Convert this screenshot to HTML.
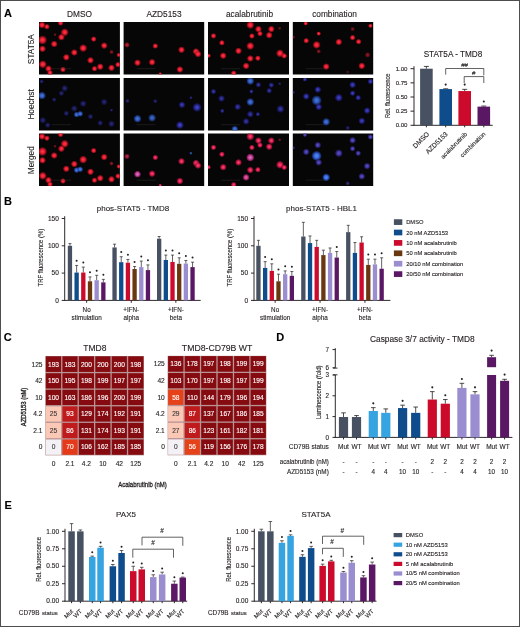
<!DOCTYPE html>
<html><head><meta charset="utf-8"><style>
html,body{margin:0;padding:0;background:#fff;}
svg{display:block;font-family:"Liberation Sans", sans-serif;}
</style></head><body>
<svg width="520" height="627" viewBox="0 0 520 627">
<rect x="0" y="0" width="520" height="627" fill="#fff"/>
<g style="filter:blur(0.35px)">
<defs>
<radialGradient id="gr"><stop offset="0" stop-color="#ff3c4c"/><stop offset="0.45" stop-color="#e61a30"/><stop offset="0.8" stop-color="#a0101a" stop-opacity="0.6"/><stop offset="1" stop-color="#600008" stop-opacity="0"/></radialGradient>
<radialGradient id="gb"><stop offset="0" stop-color="#4a58e0"/><stop offset="0.45" stop-color="#3030b0"/><stop offset="0.8" stop-color="#201a80" stop-opacity="0.6"/><stop offset="1" stop-color="#100840" stop-opacity="0"/></radialGradient>
<radialGradient id="gbb"><stop offset="0" stop-color="#5090f4"/><stop offset="0.45" stop-color="#3868e0"/><stop offset="0.8" stop-color="#2040a0" stop-opacity="0.6"/><stop offset="1" stop-color="#102050" stop-opacity="0"/></radialGradient>
<radialGradient id="gm"><stop offset="0" stop-color="#ff4a78"/><stop offset="0.45" stop-color="#dc1e4a"/><stop offset="0.8" stop-color="#a01040" stop-opacity="0.6"/><stop offset="1" stop-color="#500820" stop-opacity="0"/></radialGradient>
<radialGradient id="gp"><stop offset="0" stop-color="#e080d0"/><stop offset="0.45" stop-color="#c04aa0"/><stop offset="0.8" stop-color="#802070" stop-opacity="0.6"/><stop offset="1" stop-color="#401038" stop-opacity="0"/></radialGradient>
<radialGradient id="gv"><stop offset="0" stop-color="#7060e0"/><stop offset="0.45" stop-color="#4840c0"/><stop offset="0.8" stop-color="#302080" stop-opacity="0.6"/><stop offset="1" stop-color="#181040" stop-opacity="0"/></radialGradient>
<clipPath id="c0r0"><rect x="39" y="22" width="80.9" height="52.5"/></clipPath>
<clipPath id="c0r1"><rect x="39" y="78" width="80.9" height="52.5"/></clipPath>
<clipPath id="c0r2"><rect x="39" y="133.5" width="80.9" height="52.5"/></clipPath>
<clipPath id="c1r0"><rect x="123.6" y="22" width="80.6" height="52.5"/></clipPath>
<clipPath id="c1r1"><rect x="123.6" y="78" width="80.6" height="52.5"/></clipPath>
<clipPath id="c1r2"><rect x="123.6" y="133.5" width="80.6" height="52.5"/></clipPath>
<clipPath id="c2r0"><rect x="208" y="22" width="81" height="52.5"/></clipPath>
<clipPath id="c2r1"><rect x="208" y="78" width="81" height="52.5"/></clipPath>
<clipPath id="c2r2"><rect x="208" y="133.5" width="81" height="52.5"/></clipPath>
<clipPath id="c3r0"><rect x="292.8" y="22" width="80.4" height="52.5"/></clipPath>
<clipPath id="c3r1"><rect x="292.8" y="78" width="80.4" height="52.5"/></clipPath>
<clipPath id="c3r2"><rect x="292.8" y="133.5" width="80.4" height="52.5"/></clipPath>
</defs>
<rect x="39.00" y="22.00" width="80.90" height="52.50" fill="#060606"/>
<rect x="39.00" y="78.00" width="80.90" height="52.50" fill="#060606"/>
<rect x="39.00" y="133.50" width="80.90" height="52.50" fill="#060606"/>
<rect x="123.60" y="22.00" width="80.60" height="52.50" fill="#060606"/>
<rect x="123.60" y="78.00" width="80.60" height="52.50" fill="#060606"/>
<rect x="123.60" y="133.50" width="80.60" height="52.50" fill="#060606"/>
<rect x="208.00" y="22.00" width="81.00" height="52.50" fill="#060606"/>
<rect x="208.00" y="78.00" width="81.00" height="52.50" fill="#060606"/>
<rect x="208.00" y="133.50" width="81.00" height="52.50" fill="#060606"/>
<rect x="292.80" y="22.00" width="80.40" height="52.50" fill="#060606"/>
<rect x="292.80" y="78.00" width="80.40" height="52.50" fill="#060606"/>
<rect x="292.80" y="133.50" width="80.40" height="52.50" fill="#060606"/>
<g clip-path="url(#c0r0)">
<circle cx="42.0" cy="25.0" r="3.60" fill="url(#gr)" opacity="1.0"/>
<circle cx="46.9" cy="26.7" r="3.00" fill="url(#gr)" opacity="1.0"/>
<circle cx="60.6" cy="23.0" r="3.00" fill="url(#gr)" opacity="1.0"/>
<circle cx="64.7" cy="32.3" r="4.20" fill="url(#gr)" opacity="1.0"/>
<circle cx="61.4" cy="37.2" r="3.60" fill="url(#gr)" opacity="1.0"/>
<circle cx="55.0" cy="34.7" r="1.80" fill="url(#gr)" opacity="0.4"/>
<circle cx="42.5" cy="40.0" r="4.80" fill="url(#gr)" opacity="1.0"/>
<circle cx="54.2" cy="44.0" r="3.60" fill="url(#gr)" opacity="1.0"/>
<circle cx="42.5" cy="48.8" r="3.60" fill="url(#gr)" opacity="1.0"/>
<circle cx="93.7" cy="39.1" r="3.00" fill="url(#gr)" opacity="1.0"/>
<circle cx="104.2" cy="45.6" r="3.60" fill="url(#gr)" opacity="1.0"/>
<circle cx="83.2" cy="48.1" r="4.20" fill="url(#gr)" opacity="1.0"/>
<circle cx="74.3" cy="52.5" r="3.60" fill="url(#gr)" opacity="1.0"/>
<circle cx="111.5" cy="52.0" r="2.40" fill="url(#gr)" opacity="0.5"/>
<circle cx="66.3" cy="57.3" r="3.60" fill="url(#gr)" opacity="1.0"/>
<circle cx="90.5" cy="60.3" r="3.60" fill="url(#gr)" opacity="1.0"/>
<circle cx="42.8" cy="64.3" r="4.20" fill="url(#gr)" opacity="1.0"/>
<circle cx="48.5" cy="68.7" r="3.60" fill="url(#gr)" opacity="1.0"/>
<circle cx="50.0" cy="72.7" r="3.00" fill="url(#gr)" opacity="1.0"/>
<circle cx="63.0" cy="69.5" r="3.00" fill="url(#gr)" opacity="1.0"/>
<circle cx="94.5" cy="68.7" r="3.00" fill="url(#gr)" opacity="1.0"/>
<circle cx="100.2" cy="66.7" r="3.60" fill="url(#gr)" opacity="1.0"/>
<circle cx="111.5" cy="67.8" r="3.60" fill="url(#gr)" opacity="1.0"/>
<circle cx="118.0" cy="64.6" r="3.00" fill="url(#gr)" opacity="1.0"/>
<circle cx="118.8" cy="55.0" r="2.40" fill="url(#gr)" opacity="1.0"/>
<line x1="52" y1="68.7" x2="71" y2="68.7" stroke="#3a3a3a" stroke-width="0.4"/>
</g>
<g clip-path="url(#c0r1)">
<circle cx="42.0" cy="95.6" r="4.20" fill="url(#gbb)" opacity="0.85"/>
<circle cx="41.6" cy="81.5" r="2.40" fill="url(#gb)" opacity="0.5"/>
<circle cx="64.7" cy="88.3" r="3.60" fill="url(#gb)" opacity="0.5"/>
<circle cx="61.4" cy="93.2" r="3.00" fill="url(#gb)" opacity="0.5"/>
<circle cx="54.2" cy="99.6" r="2.40" fill="url(#gb)" opacity="0.5"/>
<circle cx="83.2" cy="103.7" r="3.60" fill="url(#gb)" opacity="0.5"/>
<circle cx="74.3" cy="108.5" r="3.60" fill="url(#gb)" opacity="0.5"/>
<circle cx="104.2" cy="102.0" r="3.60" fill="url(#gb)" opacity="0.5"/>
<circle cx="66.3" cy="113.3" r="3.00" fill="url(#gb)" opacity="0.5"/>
<circle cx="76.6" cy="114.6" r="3.12" fill="url(#gbb)" opacity="0.85"/>
<circle cx="80.2" cy="113.8" r="3.12" fill="url(#gbb)" opacity="0.85"/>
<circle cx="90.5" cy="116.6" r="3.00" fill="url(#gb)" opacity="0.5"/>
<circle cx="42.8" cy="120.3" r="3.60" fill="url(#gb)" opacity="0.5"/>
<circle cx="47.7" cy="125.1" r="3.00" fill="url(#gb)" opacity="0.5"/>
<circle cx="100.2" cy="123.0" r="3.00" fill="url(#gb)" opacity="0.5"/>
<circle cx="111.5" cy="123.8" r="3.60" fill="url(#gb)" opacity="0.5"/>
<circle cx="111.5" cy="110.1" r="1.80" fill="url(#gb)" opacity="0.5"/>
<line x1="52" y1="124.7" x2="71" y2="124.7" stroke="#3a3a3a" stroke-width="0.4"/>
</g>
<g clip-path="url(#c0r2)">
<circle cx="76.6" cy="170.1" r="3.12" fill="url(#gbb)" opacity="0.9"/>
<circle cx="80.2" cy="169.3" r="3.12" fill="url(#gbb)" opacity="0.9"/>
<circle cx="42.0" cy="136.5" r="3.60" fill="url(#gr)" opacity="1.0"/>
<circle cx="46.9" cy="138.2" r="3.00" fill="url(#gr)" opacity="1.0"/>
<circle cx="60.6" cy="134.5" r="3.00" fill="url(#gr)" opacity="1.0"/>
<circle cx="64.7" cy="143.8" r="4.20" fill="url(#gr)" opacity="1.0"/>
<circle cx="61.4" cy="148.7" r="3.60" fill="url(#gr)" opacity="1.0"/>
<circle cx="55.0" cy="146.2" r="1.80" fill="url(#gr)" opacity="0.4"/>
<circle cx="42.5" cy="151.5" r="4.80" fill="url(#gr)" opacity="1.0"/>
<circle cx="54.2" cy="155.5" r="3.60" fill="url(#gr)" opacity="1.0"/>
<circle cx="42.5" cy="160.3" r="3.60" fill="url(#gr)" opacity="1.0"/>
<circle cx="93.7" cy="150.6" r="3.00" fill="url(#gr)" opacity="1.0"/>
<circle cx="104.2" cy="157.1" r="3.60" fill="url(#gr)" opacity="1.0"/>
<circle cx="83.2" cy="159.6" r="4.20" fill="url(#gr)" opacity="1.0"/>
<circle cx="74.3" cy="164.0" r="3.60" fill="url(#gr)" opacity="1.0"/>
<circle cx="111.5" cy="163.5" r="2.40" fill="url(#gr)" opacity="0.5"/>
<circle cx="66.3" cy="168.8" r="3.60" fill="url(#gr)" opacity="1.0"/>
<circle cx="90.5" cy="171.8" r="3.60" fill="url(#gr)" opacity="1.0"/>
<circle cx="42.8" cy="175.8" r="4.20" fill="url(#gr)" opacity="1.0"/>
<circle cx="48.5" cy="180.2" r="3.60" fill="url(#gr)" opacity="1.0"/>
<circle cx="50.0" cy="184.2" r="3.00" fill="url(#gr)" opacity="1.0"/>
<circle cx="63.0" cy="181.0" r="3.00" fill="url(#gr)" opacity="1.0"/>
<circle cx="94.5" cy="180.2" r="3.00" fill="url(#gr)" opacity="1.0"/>
<circle cx="100.2" cy="178.2" r="3.60" fill="url(#gr)" opacity="1.0"/>
<circle cx="111.5" cy="179.3" r="3.60" fill="url(#gr)" opacity="1.0"/>
<circle cx="118.0" cy="176.1" r="3.00" fill="url(#gr)" opacity="1.0"/>
<circle cx="118.8" cy="166.5" r="2.40" fill="url(#gr)" opacity="1.0"/>
<line x1="52" y1="180.2" x2="71" y2="180.2" stroke="#3a3a3a" stroke-width="0.4"/>
</g>
<g clip-path="url(#c1r0)">
<circle cx="127.0" cy="44.9" r="3.00" fill="url(#gr)" opacity="0.7"/>
<circle cx="155.3" cy="46.0" r="3.00" fill="url(#gr)" opacity="1.0"/>
<circle cx="181.5" cy="49.8" r="3.60" fill="url(#gr)" opacity="1.0"/>
<circle cx="196.0" cy="51.5" r="3.60" fill="url(#gr)" opacity="1.0"/>
<circle cx="198.0" cy="54.0" r="3.60" fill="url(#gr)" opacity="1.0"/>
<circle cx="137.5" cy="62.7" r="3.60" fill="url(#gr)" opacity="1.0"/>
<circle cx="152.1" cy="62.2" r="3.60" fill="url(#gr)" opacity="1.0"/>
<circle cx="179.9" cy="69.5" r="3.60" fill="url(#gr)" opacity="1.0"/>
<circle cx="160.2" cy="73.8" r="1.80" fill="url(#gr)" opacity="1.0"/>
<line x1="136.6" y1="68.7" x2="155.6" y2="68.7" stroke="#3a3a3a" stroke-width="0.4"/>
</g>
<g clip-path="url(#c1r1)">
<circle cx="127.5" cy="100.9" r="2.40" fill="url(#gb)" opacity="0.5"/>
<circle cx="155.3" cy="101.2" r="2.40" fill="url(#gb)" opacity="0.5"/>
<circle cx="182.0" cy="104.8" r="3.60" fill="url(#gb)" opacity="0.8"/>
<circle cx="190.9" cy="97.7" r="1.80" fill="url(#gb)" opacity="0.6"/>
<circle cx="197.0" cy="107.4" r="4.80" fill="url(#gb)" opacity="0.9"/>
<circle cx="137.5" cy="118.7" r="4.20" fill="url(#gbb)" opacity="0.85"/>
<circle cx="152.1" cy="117.9" r="4.20" fill="url(#gbb)" opacity="0.765"/>
<circle cx="179.9" cy="125.1" r="4.20" fill="url(#gb)" opacity="0.9"/>
<line x1="136.6" y1="124.7" x2="155.6" y2="124.7" stroke="#3a3a3a" stroke-width="0.4"/>
</g>
<g clip-path="url(#c1r2)">
<circle cx="127.0" cy="156.4" r="3.00" fill="url(#gm)" opacity="0.7"/>
<circle cx="155.3" cy="157.5" r="3.00" fill="url(#gm)" opacity="1.0"/>
<circle cx="181.5" cy="161.3" r="3.60" fill="url(#gm)" opacity="1.0"/>
<circle cx="196.0" cy="163.0" r="3.60" fill="url(#gm)" opacity="1.0"/>
<circle cx="198.0" cy="165.5" r="3.60" fill="url(#gm)" opacity="1.0"/>
<circle cx="137.5" cy="174.2" r="3.60" fill="url(#gm)" opacity="1.0"/>
<circle cx="152.1" cy="173.7" r="3.60" fill="url(#gm)" opacity="1.0"/>
<circle cx="179.9" cy="181.0" r="3.60" fill="url(#gm)" opacity="1.0"/>
<circle cx="160.2" cy="185.3" r="1.80" fill="url(#gm)" opacity="1.0"/>
<circle cx="137.5" cy="174.2" r="3.60" fill="url(#gp)" opacity="1.0"/>
<circle cx="190.9" cy="153.2" r="1.80" fill="url(#gbb)" opacity="0.6"/>
<line x1="136.6" y1="180.2" x2="155.6" y2="180.2" stroke="#3a3a3a" stroke-width="0.4"/>
</g>
<g clip-path="url(#c2r0)">
<circle cx="250.3" cy="25.0" r="4.20" fill="url(#gr)" opacity="1.0"/>
<circle cx="258.4" cy="29.1" r="3.60" fill="url(#gr)" opacity="1.0"/>
<circle cx="271.3" cy="29.1" r="3.60" fill="url(#gr)" opacity="1.0"/>
<circle cx="260.0" cy="33.6" r="3.00" fill="url(#gr)" opacity="1.0"/>
<circle cx="269.2" cy="35.2" r="3.60" fill="url(#gr)" opacity="1.0"/>
<circle cx="251.9" cy="36.0" r="3.00" fill="url(#gr)" opacity="1.0"/>
<circle cx="279.7" cy="28.3" r="1.80" fill="url(#gr)" opacity="0.4"/>
<circle cx="213.5" cy="35.9" r="3.00" fill="url(#gr)" opacity="1.0"/>
<circle cx="221.9" cy="42.8" r="3.00" fill="url(#gr)" opacity="1.0"/>
<circle cx="250.3" cy="46.0" r="4.20" fill="url(#gr)" opacity="1.0"/>
<circle cx="238.5" cy="50.9" r="3.60" fill="url(#gr)" opacity="1.0"/>
<circle cx="208.6" cy="55.7" r="2.40" fill="url(#gr)" opacity="1.0"/>
<circle cx="223.2" cy="55.7" r="3.60" fill="url(#gr)" opacity="1.0"/>
<circle cx="250.3" cy="58.5" r="3.60" fill="url(#gr)" opacity="1.0"/>
<circle cx="257.9" cy="58.2" r="3.00" fill="url(#gr)" opacity="1.0"/>
<circle cx="280.0" cy="53.3" r="4.20" fill="url(#gr)" opacity="1.0"/>
<circle cx="284.2" cy="55.9" r="3.00" fill="url(#gr)" opacity="1.0"/>
<circle cx="246.1" cy="65.9" r="3.60" fill="url(#gr)" opacity="1.0"/>
<circle cx="233.7" cy="73.2" r="3.00" fill="url(#gr)" opacity="1.0"/>
<line x1="221" y1="68.7" x2="240" y2="68.7" stroke="#3a3a3a" stroke-width="0.4"/>
</g>
<g clip-path="url(#c2r1)">
<circle cx="250.3" cy="81.0" r="4.20" fill="url(#gbb)" opacity="0.85"/>
<circle cx="258.4" cy="84.8" r="3.00" fill="url(#gb)" opacity="0.72"/>
<circle cx="271.3" cy="85.1" r="3.00" fill="url(#gb)" opacity="0.72"/>
<circle cx="269.2" cy="90.7" r="3.00" fill="url(#gb)" opacity="0.72"/>
<circle cx="251.4" cy="91.5" r="2.40" fill="url(#gb)" opacity="0.72"/>
<circle cx="213.5" cy="91.5" r="3.00" fill="url(#gb)" opacity="0.72"/>
<circle cx="221.5" cy="98.5" r="3.60" fill="url(#gb)" opacity="0.72"/>
<circle cx="250.3" cy="102.0" r="4.20" fill="url(#gbb)" opacity="0.85"/>
<circle cx="237.7" cy="106.9" r="3.60" fill="url(#gb)" opacity="0.72"/>
<circle cx="222.3" cy="110.9" r="2.40" fill="url(#gb)" opacity="0.72"/>
<circle cx="250.3" cy="114.2" r="3.60" fill="url(#gb)" opacity="0.72"/>
<circle cx="257.9" cy="114.2" r="2.40" fill="url(#gb)" opacity="0.72"/>
<circle cx="280.5" cy="109.0" r="4.20" fill="url(#gb)" opacity="0.72"/>
<circle cx="246.1" cy="121.4" r="3.60" fill="url(#gb)" opacity="0.72"/>
<circle cx="234.8" cy="129.0" r="3.60" fill="url(#gbb)" opacity="0.85"/>
<circle cx="279.7" cy="83.8" r="1.80" fill="url(#gb)" opacity="0.5"/>
<line x1="221" y1="124.7" x2="240" y2="124.7" stroke="#3a3a3a" stroke-width="0.4"/>
</g>
<g clip-path="url(#c2r2)">
<circle cx="250.3" cy="136.5" r="4.20" fill="url(#gm)" opacity="1.0"/>
<circle cx="258.4" cy="140.6" r="3.60" fill="url(#gm)" opacity="1.0"/>
<circle cx="271.3" cy="140.6" r="3.60" fill="url(#gm)" opacity="1.0"/>
<circle cx="260.0" cy="145.1" r="3.00" fill="url(#gm)" opacity="1.0"/>
<circle cx="269.2" cy="146.7" r="3.60" fill="url(#gm)" opacity="1.0"/>
<circle cx="251.9" cy="147.5" r="3.00" fill="url(#gm)" opacity="1.0"/>
<circle cx="279.7" cy="139.8" r="1.80" fill="url(#gm)" opacity="0.4"/>
<circle cx="213.5" cy="147.4" r="3.00" fill="url(#gm)" opacity="1.0"/>
<circle cx="221.9" cy="154.3" r="3.00" fill="url(#gm)" opacity="1.0"/>
<circle cx="250.3" cy="157.5" r="4.20" fill="url(#gm)" opacity="1.0"/>
<circle cx="238.5" cy="162.4" r="3.60" fill="url(#gm)" opacity="1.0"/>
<circle cx="208.6" cy="167.2" r="2.40" fill="url(#gm)" opacity="1.0"/>
<circle cx="223.2" cy="167.2" r="3.60" fill="url(#gm)" opacity="1.0"/>
<circle cx="250.3" cy="170.0" r="3.60" fill="url(#gm)" opacity="1.0"/>
<circle cx="257.9" cy="169.7" r="3.00" fill="url(#gm)" opacity="1.0"/>
<circle cx="280.0" cy="164.8" r="4.20" fill="url(#gm)" opacity="1.0"/>
<circle cx="284.2" cy="167.4" r="3.00" fill="url(#gm)" opacity="1.0"/>
<circle cx="246.1" cy="177.4" r="3.60" fill="url(#gm)" opacity="1.0"/>
<circle cx="233.7" cy="184.7" r="3.00" fill="url(#gm)" opacity="1.0"/>
<circle cx="250.3" cy="157.5" r="4.20" fill="url(#gp)" opacity="0.9"/>
<circle cx="246.1" cy="177.4" r="3.60" fill="url(#gp)" opacity="0.7"/>
<line x1="221" y1="180.2" x2="240" y2="180.2" stroke="#3a3a3a" stroke-width="0.4"/>
</g>
<g clip-path="url(#c3r0)">
<circle cx="305.7" cy="23.4" r="2.40" fill="url(#gr)" opacity="1.0"/>
<circle cx="318.7" cy="33.6" r="2.40" fill="url(#gr)" opacity="1.0"/>
<circle cx="306.2" cy="40.7" r="3.00" fill="url(#gr)" opacity="1.0"/>
<circle cx="316.6" cy="44.9" r="4.20" fill="url(#gr)" opacity="1.0"/>
<circle cx="318.7" cy="51.4" r="2.40" fill="url(#gr)" opacity="0.5"/>
<circle cx="338.8" cy="42.0" r="3.60" fill="url(#gr)" opacity="1.0"/>
<circle cx="352.6" cy="29.1" r="2.40" fill="url(#gr)" opacity="0.45"/>
<circle cx="352.6" cy="37.6" r="3.00" fill="url(#gr)" opacity="1.0"/>
<circle cx="358.6" cy="41.7" r="3.00" fill="url(#gr)" opacity="1.0"/>
<circle cx="370.4" cy="25.8" r="2.40" fill="url(#gr)" opacity="1.0"/>
<circle cx="367.6" cy="54.9" r="3.00" fill="url(#gr)" opacity="0.5"/>
<circle cx="326.2" cy="66.6" r="3.60" fill="url(#gr)" opacity="1.0"/>
<circle cx="361.8" cy="65.9" r="3.60" fill="url(#gr)" opacity="1.0"/>
<circle cx="293.6" cy="37.2" r="1.80" fill="url(#gr)" opacity="0.4"/>
<circle cx="347.7" cy="71.9" r="1.80" fill="url(#gr)" opacity="0.3"/>
<line x1="305.8" y1="68.7" x2="324.8" y2="68.7" stroke="#3a3a3a" stroke-width="0.4"/>
</g>
<g clip-path="url(#c3r1)">
<circle cx="304.9" cy="79.4" r="2.40" fill="url(#gb)" opacity="0.85"/>
<circle cx="317.8" cy="89.6" r="3.60" fill="url(#gb)" opacity="0.85"/>
<circle cx="306.2" cy="96.4" r="3.60" fill="url(#gb)" opacity="0.85"/>
<circle cx="316.6" cy="100.4" r="5.40" fill="url(#gbb)" opacity="0.85"/>
<circle cx="318.7" cy="106.9" r="3.60" fill="url(#gb)" opacity="0.85"/>
<circle cx="338.8" cy="97.7" r="4.20" fill="url(#gb)" opacity="0.85"/>
<circle cx="352.6" cy="84.8" r="3.60" fill="url(#gb)" opacity="0.85"/>
<circle cx="352.6" cy="93.2" r="3.00" fill="url(#gb)" opacity="0.85"/>
<circle cx="358.2" cy="97.7" r="3.00" fill="url(#gb)" opacity="0.85"/>
<circle cx="370.4" cy="81.5" r="3.00" fill="url(#gb)" opacity="0.85"/>
<circle cx="367.1" cy="110.6" r="3.60" fill="url(#gb)" opacity="0.85"/>
<circle cx="326.2" cy="121.9" r="4.20" fill="url(#gbb)" opacity="0.85"/>
<circle cx="361.8" cy="120.9" r="3.60" fill="url(#gb)" opacity="0.85"/>
<circle cx="293.6" cy="92.3" r="1.80" fill="url(#gb)" opacity="0.5"/>
<circle cx="347.7" cy="127.9" r="2.40" fill="url(#gb)" opacity="0.5"/>
<line x1="305.8" y1="124.7" x2="324.8" y2="124.7" stroke="#3a3a3a" stroke-width="0.4"/>
</g>
<g clip-path="url(#c3r2)">
<circle cx="304.9" cy="134.9" r="2.40" fill="url(#gv)" opacity="0.85"/>
<circle cx="317.8" cy="145.1" r="3.60" fill="url(#gv)" opacity="0.85"/>
<circle cx="306.2" cy="151.9" r="3.60" fill="url(#gv)" opacity="0.85"/>
<circle cx="316.6" cy="155.9" r="5.40" fill="url(#gbb)" opacity="1.0"/>
<circle cx="318.7" cy="162.4" r="3.60" fill="url(#gv)" opacity="0.85"/>
<circle cx="338.8" cy="153.2" r="4.20" fill="url(#gv)" opacity="0.85"/>
<circle cx="352.6" cy="140.3" r="3.60" fill="url(#gv)" opacity="0.85"/>
<circle cx="352.6" cy="148.7" r="3.00" fill="url(#gv)" opacity="0.85"/>
<circle cx="358.2" cy="153.2" r="3.00" fill="url(#gv)" opacity="0.85"/>
<circle cx="370.4" cy="137.0" r="3.00" fill="url(#gv)" opacity="0.85"/>
<circle cx="367.1" cy="166.1" r="3.60" fill="url(#gv)" opacity="0.85"/>
<circle cx="326.2" cy="177.4" r="4.20" fill="url(#gbb)" opacity="1.0"/>
<circle cx="361.8" cy="176.4" r="3.60" fill="url(#gv)" opacity="0.85"/>
<circle cx="293.6" cy="147.8" r="1.80" fill="url(#gv)" opacity="0.5"/>
<circle cx="347.7" cy="183.4" r="2.40" fill="url(#gv)" opacity="0.5"/>
<line x1="305.8" y1="180.2" x2="324.8" y2="180.2" stroke="#3a3a3a" stroke-width="0.4"/>
</g>
<text x="79.50" y="17.20" font-size="8.3" text-anchor="middle" fill="#231f20" stroke="#231f20" stroke-width="0.12">DMSO</text>
<text x="164.00" y="17.20" font-size="8.3" text-anchor="middle" fill="#231f20" stroke="#231f20" stroke-width="0.12">AZD5153</text>
<text x="249.50" y="17.20" font-size="8.3" text-anchor="middle" fill="#231f20" stroke="#231f20" stroke-width="0.12">acalabrutinib</text>
<text x="334.50" y="17.20" font-size="8.3" text-anchor="middle" fill="#231f20" stroke="#231f20" stroke-width="0.12">combination</text>
<text x="34.00" y="49.20" font-size="8.3" text-anchor="middle" fill="#231f20" stroke="#231f20" stroke-width="0.12" transform="rotate(-90 34 49.2)">STAT5A</text>
<text x="34.00" y="104.40" font-size="8.3" text-anchor="middle" fill="#231f20" stroke="#231f20" stroke-width="0.12" transform="rotate(-90 34 104.4)">Hoechst</text>
<text x="34.00" y="160.20" font-size="8.3" text-anchor="middle" fill="#231f20" stroke="#231f20" stroke-width="0.12" transform="rotate(-90 34 160.2)">Merged</text>
<text x="453.00" y="56.80" font-size="8.2" text-anchor="middle" fill="#231f20" stroke="#231f20" stroke-width="0.12">STAT5A - TMD8</text>
<line x1="414" y1="66.2" x2="414" y2="125.7" stroke="#231f20" stroke-width="0.95"/>
<line x1="410.5" y1="68.69999999999999" x2="414" y2="68.69999999999999" stroke="#231f20" stroke-width="0.95"/>
<text x="407.50" y="70.80" font-size="6.1" text-anchor="end" fill="#231f20" stroke="#231f20" stroke-width="0.12">1.00</text>
<line x1="410.5" y1="82.85" x2="414" y2="82.85" stroke="#231f20" stroke-width="0.95"/>
<text x="407.50" y="84.95" font-size="6.1" text-anchor="end" fill="#231f20" stroke="#231f20" stroke-width="0.12">0.75</text>
<line x1="410.5" y1="97.0" x2="414" y2="97.0" stroke="#231f20" stroke-width="0.95"/>
<text x="407.50" y="99.10" font-size="6.1" text-anchor="end" fill="#231f20" stroke="#231f20" stroke-width="0.12">0.50</text>
<line x1="410.5" y1="111.14999999999999" x2="414" y2="111.14999999999999" stroke="#231f20" stroke-width="0.95"/>
<text x="407.50" y="113.25" font-size="6.1" text-anchor="end" fill="#231f20" stroke="#231f20" stroke-width="0.12">0.25</text>
<line x1="410.5" y1="125.3" x2="414" y2="125.3" stroke="#231f20" stroke-width="0.95"/>
<text x="407.50" y="127.40" font-size="6.1" text-anchor="end" fill="#231f20" stroke="#231f20" stroke-width="0.12">0.00</text>
<line x1="413.6" y1="125.3" x2="492.7" y2="125.3" stroke="#231f20" stroke-width="0.95"/>
<line x1="426.4" y1="68.69999999999999" x2="426.4" y2="66.43599999999999" stroke="#231f20" stroke-width="0.8"/>
<line x1="423.9" y1="66.43599999999999" x2="428.9" y2="66.43599999999999" stroke="#231f20" stroke-width="0.8"/>
<rect x="420.10" y="68.70" width="12.60" height="56.60" fill="#475162"/>
<line x1="426.4" y1="125.3" x2="426.4" y2="127.3" stroke="#231f20" stroke-width="0.95"/>
<line x1="445.7" y1="89.076" x2="445.7" y2="88.79299999999999" stroke="#231f20" stroke-width="0.8"/>
<line x1="443.2" y1="88.79299999999999" x2="448.2" y2="88.79299999999999" stroke="#231f20" stroke-width="0.8"/>
<rect x="439.40" y="89.08" width="12.60" height="36.22" fill="#0f4c8c"/>
<line x1="445.7" y1="125.3" x2="445.7" y2="127.3" stroke="#231f20" stroke-width="0.95"/>
<line x1="464.7" y1="91.05699999999999" x2="464.7" y2="89.359" stroke="#231f20" stroke-width="0.8"/>
<line x1="462.2" y1="89.359" x2="467.2" y2="89.359" stroke="#231f20" stroke-width="0.8"/>
<rect x="458.40" y="91.06" width="12.60" height="34.24" fill="#cc0a2c"/>
<line x1="464.7" y1="125.3" x2="464.7" y2="127.3" stroke="#231f20" stroke-width="0.95"/>
<line x1="483.8" y1="106.622" x2="483.8" y2="106.056" stroke="#231f20" stroke-width="0.8"/>
<line x1="481.3" y1="106.056" x2="486.3" y2="106.056" stroke="#231f20" stroke-width="0.8"/>
<rect x="477.50" y="106.62" width="12.60" height="18.68" fill="#5a1864"/>
<line x1="483.8" y1="125.3" x2="483.8" y2="127.3" stroke="#231f20" stroke-width="0.95"/>
<circle cx="445.7" cy="84.6" r="1.05" fill="#231f20"/>
<circle cx="464.7" cy="84.6" r="1.05" fill="#231f20"/>
<circle cx="483.8" cy="101.5" r="1.05" fill="#231f20"/>
<polyline points="445.7,74.6 445.7,68.5 483.8,68.5 483.8,75.4" fill="none" stroke="#231f20" stroke-width="0.7"/>
<text x="464.60" y="66.80" font-size="6.2" text-anchor="middle" fill="#231f20" stroke="#231f20" stroke-width="0.12">##</text>
<polyline points="464.2,83 464.2,76.6 483.8,76.6 483.8,83" fill="none" stroke="#231f20" stroke-width="0.7"/>
<text x="473.80" y="75.00" font-size="6.2" text-anchor="middle" fill="#231f20" stroke="#231f20" stroke-width="0.12">#</text>
<text x="390.50" y="95.70" font-size="7.2" text-anchor="middle" fill="#231f20" stroke="#231f20" stroke-width="0.12" transform="rotate(-90 390.5 95.7)" textLength="44.5" lengthAdjust="spacingAndGlyphs">Rel. fluorescence</text>
<text x="429.80" y="134.50" font-size="6.7" text-anchor="end" fill="#231f20" stroke="#231f20" stroke-width="0.12" transform="rotate(-45 429.8 134.5)">DMSO</text>
<text x="448.20" y="134.50" font-size="6.7" text-anchor="end" fill="#231f20" stroke="#231f20" stroke-width="0.12" transform="rotate(-45 448.2 134.5)">AZD5153</text>
<text x="467.60" y="134.70" font-size="6.1" text-anchor="end" fill="#231f20" stroke="#231f20" stroke-width="0.12" transform="rotate(-45 467.6 134.7)">acalabrutinib</text>
<text x="485.80" y="134.50" font-size="6.1" text-anchor="end" fill="#231f20" stroke="#231f20" stroke-width="0.12" transform="rotate(-45 485.8 134.5)">combination</text>
<text x="133.00" y="210.60" font-size="8" text-anchor="middle" fill="#231f20" stroke="#231f20" stroke-width="0.12">phos-STAT5 - TMD8</text>
<line x1="64.7" y1="216.2" x2="64.7" y2="300.79999999999995" stroke="#231f20" stroke-width="0.95"/>
<line x1="61.7" y1="218.49999999999997" x2="64.7" y2="218.49999999999997" stroke="#231f20" stroke-width="0.95"/>
<text x="58.80" y="220.80" font-size="6.5" text-anchor="end" fill="#231f20" stroke="#231f20" stroke-width="0.12">150</text>
<line x1="61.7" y1="245.79999999999998" x2="64.7" y2="245.79999999999998" stroke="#231f20" stroke-width="0.95"/>
<text x="58.80" y="248.10" font-size="6.5" text-anchor="end" fill="#231f20" stroke="#231f20" stroke-width="0.12">100</text>
<line x1="61.7" y1="273.09999999999997" x2="64.7" y2="273.09999999999997" stroke="#231f20" stroke-width="0.95"/>
<text x="58.80" y="275.40" font-size="6.5" text-anchor="end" fill="#231f20" stroke="#231f20" stroke-width="0.12">50</text>
<line x1="61.7" y1="300.4" x2="64.7" y2="300.4" stroke="#231f20" stroke-width="0.95"/>
<text x="58.80" y="302.70" font-size="6.5" text-anchor="end" fill="#231f20" stroke="#231f20" stroke-width="0.12">0</text>
<line x1="64.3" y1="300.4" x2="200.7" y2="300.4" stroke="#231f20" stroke-width="0.95"/>
<line x1="69.95" y1="245.79999999999998" x2="69.95" y2="243.61599999999999" stroke="#231f20" stroke-width="0.7"/>
<line x1="68.45" y1="243.61599999999999" x2="71.45" y2="243.61599999999999" stroke="#231f20" stroke-width="0.7"/>
<rect x="67.80" y="245.80" width="4.30" height="54.60" fill="#475162"/>
<line x1="76.63" y1="272.554" x2="76.63" y2="265.45599999999996" stroke="#231f20" stroke-width="0.7"/>
<line x1="75.13" y1="265.45599999999996" x2="78.13" y2="265.45599999999996" stroke="#231f20" stroke-width="0.7"/>
<rect x="74.48" y="272.55" width="4.30" height="27.85" fill="#0f4c8c"/>
<circle cx="76.63" cy="260.86" r="1.0" fill="#231f20"/>
<line x1="83.31" y1="272.554" x2="83.31" y2="267.094" stroke="#231f20" stroke-width="0.7"/>
<line x1="81.81" y1="267.094" x2="84.81" y2="267.094" stroke="#231f20" stroke-width="0.7"/>
<rect x="81.16" y="272.55" width="4.30" height="27.85" fill="#cc0a2c"/>
<circle cx="83.31" cy="262.49" r="1.0" fill="#231f20"/>
<line x1="89.99000000000001" y1="281.28999999999996" x2="89.99000000000001" y2="276.92199999999997" stroke="#231f20" stroke-width="0.7"/>
<line x1="88.49000000000001" y1="276.92199999999997" x2="91.49000000000001" y2="276.92199999999997" stroke="#231f20" stroke-width="0.7"/>
<rect x="87.84" y="281.29" width="4.30" height="19.11" fill="#6a3810"/>
<circle cx="89.99" cy="272.32" r="1.0" fill="#231f20"/>
<line x1="96.67" y1="280.198" x2="96.67" y2="275.284" stroke="#231f20" stroke-width="0.7"/>
<line x1="95.17" y1="275.284" x2="98.17" y2="275.284" stroke="#231f20" stroke-width="0.7"/>
<rect x="94.52" y="280.20" width="4.30" height="20.20" fill="#9a8ed0"/>
<circle cx="96.67" cy="270.68" r="1.0" fill="#231f20"/>
<line x1="103.35" y1="282.38199999999995" x2="103.35" y2="279.37899999999996" stroke="#231f20" stroke-width="0.7"/>
<line x1="101.85" y1="279.37899999999996" x2="104.85" y2="279.37899999999996" stroke="#231f20" stroke-width="0.7"/>
<rect x="101.20" y="282.38" width="4.30" height="18.02" fill="#5a1864"/>
<circle cx="103.35" cy="274.78" r="1.0" fill="#231f20"/>
<line x1="86.64999999999999" y1="300.4" x2="86.64999999999999" y2="302.79999999999995" stroke="#231f20" stroke-width="0.95"/>
<text x="86.65" y="312.20" font-size="6.3" text-anchor="middle" fill="#231f20" stroke="#231f20" stroke-width="0.12">No</text>
<text x="86.65" y="320.20" font-size="6.3" text-anchor="middle" fill="#231f20" stroke="#231f20" stroke-width="0.12">stimulation</text>
<line x1="114.55000000000001" y1="247.438" x2="114.55000000000001" y2="244.16199999999998" stroke="#231f20" stroke-width="0.7"/>
<line x1="113.05000000000001" y1="244.16199999999998" x2="116.05000000000001" y2="244.16199999999998" stroke="#231f20" stroke-width="0.7"/>
<rect x="112.40" y="247.44" width="4.30" height="52.96" fill="#475162"/>
<line x1="121.23000000000002" y1="262.17999999999995" x2="121.23000000000002" y2="256.71999999999997" stroke="#231f20" stroke-width="0.7"/>
<line x1="119.73000000000002" y1="256.71999999999997" x2="122.73000000000002" y2="256.71999999999997" stroke="#231f20" stroke-width="0.7"/>
<rect x="119.08" y="262.18" width="4.30" height="38.22" fill="#0f4c8c"/>
<circle cx="121.23" cy="252.12" r="1.0" fill="#231f20"/>
<line x1="127.91000000000001" y1="262.726" x2="127.91000000000001" y2="259.45" stroke="#231f20" stroke-width="0.7"/>
<line x1="126.41000000000001" y1="259.45" x2="129.41000000000003" y2="259.45" stroke="#231f20" stroke-width="0.7"/>
<rect x="125.76" y="262.73" width="4.30" height="37.67" fill="#cc0a2c"/>
<circle cx="127.91" cy="254.85" r="1.0" fill="#231f20"/>
<line x1="134.59" y1="269.005" x2="134.59" y2="266.548" stroke="#231f20" stroke-width="0.7"/>
<line x1="133.09" y1="266.548" x2="136.09" y2="266.548" stroke="#231f20" stroke-width="0.7"/>
<rect x="132.44" y="269.00" width="4.30" height="31.39" fill="#6a3810"/>
<circle cx="134.59" cy="261.95" r="1.0" fill="#231f20"/>
<line x1="141.27" y1="267.094" x2="141.27" y2="261.08799999999997" stroke="#231f20" stroke-width="0.7"/>
<line x1="139.77" y1="261.08799999999997" x2="142.77" y2="261.08799999999997" stroke="#231f20" stroke-width="0.7"/>
<rect x="139.12" y="267.09" width="4.30" height="33.31" fill="#9a8ed0"/>
<circle cx="141.27" cy="256.49" r="1.0" fill="#231f20"/>
<line x1="147.95000000000002" y1="270.097" x2="147.95000000000002" y2="264.90999999999997" stroke="#231f20" stroke-width="0.7"/>
<line x1="146.45000000000002" y1="264.90999999999997" x2="149.45000000000002" y2="264.90999999999997" stroke="#231f20" stroke-width="0.7"/>
<rect x="145.80" y="270.10" width="4.30" height="30.30" fill="#5a1864"/>
<circle cx="147.95" cy="260.31" r="1.0" fill="#231f20"/>
<line x1="131.25" y1="300.4" x2="131.25" y2="302.79999999999995" stroke="#231f20" stroke-width="0.95"/>
<text x="131.25" y="312.20" font-size="6.3" text-anchor="middle" fill="#231f20" stroke="#231f20" stroke-width="0.12">+IFN-</text>
<text x="131.25" y="320.20" font-size="6.3" text-anchor="middle" fill="#231f20" stroke="#231f20" stroke-width="0.12">alpha</text>
<line x1="159.15" y1="238.70199999999997" x2="159.15" y2="236.51799999999997" stroke="#231f20" stroke-width="0.7"/>
<line x1="157.65" y1="236.51799999999997" x2="160.65" y2="236.51799999999997" stroke="#231f20" stroke-width="0.7"/>
<rect x="157.00" y="238.70" width="4.30" height="61.70" fill="#475162"/>
<line x1="165.83" y1="259.996" x2="165.83" y2="255.08199999999997" stroke="#231f20" stroke-width="0.7"/>
<line x1="164.33" y1="255.08199999999997" x2="167.33" y2="255.08199999999997" stroke="#231f20" stroke-width="0.7"/>
<rect x="163.68" y="260.00" width="4.30" height="40.40" fill="#0f4c8c"/>
<circle cx="165.83" cy="250.48" r="1.0" fill="#231f20"/>
<line x1="172.51000000000002" y1="261.907" x2="172.51000000000002" y2="255.08199999999997" stroke="#231f20" stroke-width="0.7"/>
<line x1="171.01000000000002" y1="255.08199999999997" x2="174.01000000000002" y2="255.08199999999997" stroke="#231f20" stroke-width="0.7"/>
<rect x="170.36" y="261.91" width="4.30" height="38.49" fill="#cc0a2c"/>
<circle cx="172.51" cy="250.48" r="1.0" fill="#231f20"/>
<line x1="179.19" y1="263.818" x2="179.19" y2="257.81199999999995" stroke="#231f20" stroke-width="0.7"/>
<line x1="177.69" y1="257.81199999999995" x2="180.69" y2="257.81199999999995" stroke="#231f20" stroke-width="0.7"/>
<rect x="177.04" y="263.82" width="4.30" height="36.58" fill="#6a3810"/>
<circle cx="179.19" cy="253.21" r="1.0" fill="#231f20"/>
<line x1="185.87" y1="263.54499999999996" x2="185.87" y2="260.542" stroke="#231f20" stroke-width="0.7"/>
<line x1="184.37" y1="260.542" x2="187.37" y2="260.542" stroke="#231f20" stroke-width="0.7"/>
<rect x="183.72" y="263.54" width="4.30" height="36.86" fill="#9a8ed0"/>
<circle cx="185.87" cy="255.94" r="1.0" fill="#231f20"/>
<line x1="192.55" y1="267.094" x2="192.55" y2="262.17999999999995" stroke="#231f20" stroke-width="0.7"/>
<line x1="191.05" y1="262.17999999999995" x2="194.05" y2="262.17999999999995" stroke="#231f20" stroke-width="0.7"/>
<rect x="190.40" y="267.09" width="4.30" height="33.31" fill="#5a1864"/>
<circle cx="192.55" cy="257.58" r="1.0" fill="#231f20"/>
<line x1="175.85" y1="300.4" x2="175.85" y2="302.79999999999995" stroke="#231f20" stroke-width="0.95"/>
<text x="175.85" y="312.20" font-size="6.3" text-anchor="middle" fill="#231f20" stroke="#231f20" stroke-width="0.12">+IFN-</text>
<text x="175.85" y="320.20" font-size="6.3" text-anchor="middle" fill="#231f20" stroke="#231f20" stroke-width="0.12">beta</text>
<text x="42.60" y="257.60" font-size="7.4" text-anchor="middle" fill="#231f20" stroke="#231f20" stroke-width="0.12" transform="rotate(-90 42.6 257.6)" textLength="57.7" lengthAdjust="spacingAndGlyphs">TRF fluorescence (%)</text>
<text x="321.50" y="210.60" font-size="8" text-anchor="middle" fill="#231f20" stroke="#231f20" stroke-width="0.12">phos-STAT5 - HBL1</text>
<line x1="254" y1="216.2" x2="254" y2="300.79999999999995" stroke="#231f20" stroke-width="0.95"/>
<line x1="251" y1="218.49999999999997" x2="254" y2="218.49999999999997" stroke="#231f20" stroke-width="0.95"/>
<text x="248.10" y="220.80" font-size="6.5" text-anchor="end" fill="#231f20" stroke="#231f20" stroke-width="0.12">150</text>
<line x1="251" y1="245.79999999999998" x2="254" y2="245.79999999999998" stroke="#231f20" stroke-width="0.95"/>
<text x="248.10" y="248.10" font-size="6.5" text-anchor="end" fill="#231f20" stroke="#231f20" stroke-width="0.12">100</text>
<line x1="251" y1="273.09999999999997" x2="254" y2="273.09999999999997" stroke="#231f20" stroke-width="0.95"/>
<text x="248.10" y="275.40" font-size="6.5" text-anchor="end" fill="#231f20" stroke="#231f20" stroke-width="0.12">50</text>
<line x1="251" y1="300.4" x2="254" y2="300.4" stroke="#231f20" stroke-width="0.95"/>
<text x="248.10" y="302.70" font-size="6.5" text-anchor="end" fill="#231f20" stroke="#231f20" stroke-width="0.12">0</text>
<line x1="253.6" y1="300.4" x2="390.4" y2="300.4" stroke="#231f20" stroke-width="0.95"/>
<line x1="258.45" y1="245.79999999999998" x2="258.45" y2="240.33999999999997" stroke="#231f20" stroke-width="0.7"/>
<line x1="256.95" y1="240.33999999999997" x2="259.95" y2="240.33999999999997" stroke="#231f20" stroke-width="0.7"/>
<rect x="256.30" y="245.80" width="4.30" height="54.60" fill="#475162"/>
<line x1="265.13" y1="267.91299999999995" x2="265.13" y2="261.63399999999996" stroke="#231f20" stroke-width="0.7"/>
<line x1="263.63" y1="261.63399999999996" x2="266.63" y2="261.63399999999996" stroke="#231f20" stroke-width="0.7"/>
<rect x="262.98" y="267.91" width="4.30" height="32.49" fill="#0f4c8c"/>
<circle cx="265.13" cy="257.03" r="1.0" fill="#231f20"/>
<line x1="271.81" y1="270.916" x2="271.81" y2="263.818" stroke="#231f20" stroke-width="0.7"/>
<line x1="270.31" y1="263.818" x2="273.31" y2="263.818" stroke="#231f20" stroke-width="0.7"/>
<rect x="269.66" y="270.92" width="4.30" height="29.48" fill="#cc0a2c"/>
<circle cx="271.81" cy="259.22" r="1.0" fill="#231f20"/>
<line x1="278.49" y1="281.28999999999996" x2="278.49" y2="274.19199999999995" stroke="#231f20" stroke-width="0.7"/>
<line x1="276.99" y1="274.19199999999995" x2="279.99" y2="274.19199999999995" stroke="#231f20" stroke-width="0.7"/>
<rect x="276.34" y="281.29" width="4.30" height="19.11" fill="#6a3810"/>
<circle cx="278.49" cy="269.59" r="1.0" fill="#231f20"/>
<line x1="285.16999999999996" y1="274.19199999999995" x2="285.16999999999996" y2="270.916" stroke="#231f20" stroke-width="0.7"/>
<line x1="283.66999999999996" y1="270.916" x2="286.66999999999996" y2="270.916" stroke="#231f20" stroke-width="0.7"/>
<rect x="283.02" y="274.19" width="4.30" height="26.21" fill="#9a8ed0"/>
<circle cx="285.17" cy="266.32" r="1.0" fill="#231f20"/>
<line x1="291.84999999999997" y1="275.83" x2="291.84999999999997" y2="271.462" stroke="#231f20" stroke-width="0.7"/>
<line x1="290.34999999999997" y1="271.462" x2="293.34999999999997" y2="271.462" stroke="#231f20" stroke-width="0.7"/>
<rect x="289.70" y="275.83" width="4.30" height="24.57" fill="#5a1864"/>
<circle cx="291.85" cy="266.86" r="1.0" fill="#231f20"/>
<line x1="275.15000000000003" y1="300.4" x2="275.15000000000003" y2="302.79999999999995" stroke="#231f20" stroke-width="0.95"/>
<text x="275.15" y="312.20" font-size="6.3" text-anchor="middle" fill="#231f20" stroke="#231f20" stroke-width="0.12">No</text>
<text x="275.15" y="320.20" font-size="6.3" text-anchor="middle" fill="#231f20" stroke="#231f20" stroke-width="0.12">stimulation</text>
<line x1="303.34999999999997" y1="236.51799999999997" x2="303.34999999999997" y2="222.32199999999997" stroke="#231f20" stroke-width="0.7"/>
<line x1="301.84999999999997" y1="222.32199999999997" x2="304.84999999999997" y2="222.32199999999997" stroke="#231f20" stroke-width="0.7"/>
<rect x="301.20" y="236.52" width="4.30" height="63.88" fill="#475162"/>
<line x1="310.03" y1="243.06999999999996" x2="310.03" y2="235.97199999999998" stroke="#231f20" stroke-width="0.7"/>
<line x1="308.53" y1="235.97199999999998" x2="311.53" y2="235.97199999999998" stroke="#231f20" stroke-width="0.7"/>
<rect x="307.88" y="243.07" width="4.30" height="57.33" fill="#0f4c8c"/>
<line x1="316.71" y1="246.89199999999997" x2="316.71" y2="240.33999999999997" stroke="#231f20" stroke-width="0.7"/>
<line x1="315.21" y1="240.33999999999997" x2="318.21" y2="240.33999999999997" stroke="#231f20" stroke-width="0.7"/>
<rect x="314.56" y="246.89" width="4.30" height="53.51" fill="#cc0a2c"/>
<line x1="323.39" y1="255.08199999999997" x2="323.39" y2="250.16799999999998" stroke="#231f20" stroke-width="0.7"/>
<line x1="321.89" y1="250.16799999999998" x2="324.89" y2="250.16799999999998" stroke="#231f20" stroke-width="0.7"/>
<rect x="321.24" y="255.08" width="4.30" height="45.32" fill="#6a3810"/>
<line x1="330.06999999999994" y1="252.89799999999997" x2="330.06999999999994" y2="247.98399999999998" stroke="#231f20" stroke-width="0.7"/>
<line x1="328.56999999999994" y1="247.98399999999998" x2="331.56999999999994" y2="247.98399999999998" stroke="#231f20" stroke-width="0.7"/>
<rect x="327.92" y="252.90" width="4.30" height="47.50" fill="#9a8ed0"/>
<line x1="336.74999999999994" y1="257.539" x2="336.74999999999994" y2="251.53299999999996" stroke="#231f20" stroke-width="0.7"/>
<line x1="335.24999999999994" y1="251.53299999999996" x2="338.24999999999994" y2="251.53299999999996" stroke="#231f20" stroke-width="0.7"/>
<rect x="334.60" y="257.54" width="4.30" height="42.86" fill="#5a1864"/>
<circle cx="336.75" cy="246.93" r="1.0" fill="#231f20"/>
<line x1="320.05" y1="300.4" x2="320.05" y2="302.79999999999995" stroke="#231f20" stroke-width="0.95"/>
<text x="320.05" y="312.20" font-size="6.3" text-anchor="middle" fill="#231f20" stroke="#231f20" stroke-width="0.12">+IFN-</text>
<text x="320.05" y="320.20" font-size="6.3" text-anchor="middle" fill="#231f20" stroke="#231f20" stroke-width="0.12">alpha</text>
<line x1="348.25" y1="232.14999999999998" x2="348.25" y2="225.325" stroke="#231f20" stroke-width="0.7"/>
<line x1="346.75" y1="225.325" x2="349.75" y2="225.325" stroke="#231f20" stroke-width="0.7"/>
<rect x="346.10" y="232.15" width="4.30" height="68.25" fill="#475162"/>
<line x1="354.93" y1="252.89799999999997" x2="354.93" y2="242.52399999999997" stroke="#231f20" stroke-width="0.7"/>
<line x1="353.43" y1="242.52399999999997" x2="356.43" y2="242.52399999999997" stroke="#231f20" stroke-width="0.7"/>
<rect x="352.78" y="252.90" width="4.30" height="47.50" fill="#0f4c8c"/>
<line x1="361.61" y1="242.52399999999997" x2="361.61" y2="236.79099999999997" stroke="#231f20" stroke-width="0.7"/>
<line x1="360.11" y1="236.79099999999997" x2="363.11" y2="236.79099999999997" stroke="#231f20" stroke-width="0.7"/>
<rect x="359.46" y="242.52" width="4.30" height="57.88" fill="#cc0a2c"/>
<line x1="368.29" y1="264.90999999999997" x2="368.29" y2="259.17699999999996" stroke="#231f20" stroke-width="0.7"/>
<line x1="366.79" y1="259.17699999999996" x2="369.79" y2="259.17699999999996" stroke="#231f20" stroke-width="0.7"/>
<rect x="366.14" y="264.91" width="4.30" height="35.49" fill="#6a3810"/>
<circle cx="368.29" cy="254.58" r="1.0" fill="#231f20"/>
<line x1="374.97" y1="264.364" x2="374.97" y2="259.17699999999996" stroke="#231f20" stroke-width="0.7"/>
<line x1="373.47" y1="259.17699999999996" x2="376.47" y2="259.17699999999996" stroke="#231f20" stroke-width="0.7"/>
<rect x="372.82" y="264.36" width="4.30" height="36.04" fill="#9a8ed0"/>
<circle cx="374.97" cy="254.58" r="1.0" fill="#231f20"/>
<line x1="381.65" y1="268.73199999999997" x2="381.65" y2="257.81199999999995" stroke="#231f20" stroke-width="0.7"/>
<line x1="380.15" y1="257.81199999999995" x2="383.15" y2="257.81199999999995" stroke="#231f20" stroke-width="0.7"/>
<rect x="379.50" y="268.73" width="4.30" height="31.67" fill="#5a1864"/>
<circle cx="381.65" cy="253.21" r="1.0" fill="#231f20"/>
<line x1="364.95000000000005" y1="300.4" x2="364.95000000000005" y2="302.79999999999995" stroke="#231f20" stroke-width="0.95"/>
<text x="364.95" y="312.20" font-size="6.3" text-anchor="middle" fill="#231f20" stroke="#231f20" stroke-width="0.12">+IFN-</text>
<text x="364.95" y="320.20" font-size="6.3" text-anchor="middle" fill="#231f20" stroke="#231f20" stroke-width="0.12">beta</text>
<text x="232.00" y="257.60" font-size="7.4" text-anchor="middle" fill="#231f20" stroke="#231f20" stroke-width="0.12" transform="rotate(-90 232 257.6)" textLength="57.7" lengthAdjust="spacingAndGlyphs">TRF fluorescence (%)</text>
<rect x="393.90" y="219.25" width="8.40" height="5.70" fill="#475162"/>
<text x="406.20" y="224.20" font-size="5.8" text-anchor="start" fill="#231f20" stroke="#231f20" stroke-width="0.12">DMSO</text>
<rect x="393.90" y="229.65" width="8.40" height="5.70" fill="#0f4c8c"/>
<text x="406.20" y="234.60" font-size="5.8" text-anchor="start" fill="#231f20" stroke="#231f20" stroke-width="0.12">20 nM AZD5153</text>
<rect x="393.90" y="240.05" width="8.40" height="5.70" fill="#cc0a2c"/>
<text x="406.20" y="245.00" font-size="5.8" text-anchor="start" fill="#231f20" stroke="#231f20" stroke-width="0.12">10 nM acalabrutinib</text>
<rect x="393.90" y="250.45" width="8.40" height="5.70" fill="#6a3810"/>
<text x="406.20" y="255.40" font-size="5.8" text-anchor="start" fill="#231f20" stroke="#231f20" stroke-width="0.12">50 nM acalabrutinib</text>
<rect x="393.90" y="260.85" width="8.40" height="5.70" fill="#9a8ed0"/>
<text x="406.20" y="265.80" font-size="5.8" text-anchor="start" fill="#231f20" stroke="#231f20" stroke-width="0.12">20/10 nM combination</text>
<rect x="393.90" y="271.25" width="8.40" height="5.70" fill="#5a1864"/>
<text x="406.20" y="276.20" font-size="5.8" text-anchor="start" fill="#231f20" stroke="#231f20" stroke-width="0.12">20/50 nM combination</text>
<rect x="45.30" y="356.00" width="98.70" height="99.40" fill="#b89494"/>
<rect x="45.80" y="356.30" width="15.30" height="15.62" fill="#850b10"/>
<text x="53.52" y="366.58" font-size="6.6" text-anchor="middle" fill="#ffffff" stroke="#ffffff" stroke-width="0.12">193</text>
<rect x="62.40" y="356.30" width="15.15" height="15.62" fill="#850b10"/>
<text x="69.97" y="366.58" font-size="6.6" text-anchor="middle" fill="#ffffff" stroke="#ffffff" stroke-width="0.12">183</text>
<rect x="78.85" y="356.30" width="15.15" height="15.62" fill="#850b10"/>
<text x="86.42" y="366.58" font-size="6.6" text-anchor="middle" fill="#ffffff" stroke="#ffffff" stroke-width="0.12">200</text>
<rect x="95.30" y="356.30" width="15.15" height="15.62" fill="#850b10"/>
<text x="102.88" y="366.58" font-size="6.6" text-anchor="middle" fill="#ffffff" stroke="#ffffff" stroke-width="0.12">200</text>
<rect x="111.75" y="356.30" width="15.15" height="15.62" fill="#850b10"/>
<text x="119.32" y="366.58" font-size="6.6" text-anchor="middle" fill="#ffffff" stroke="#ffffff" stroke-width="0.12">200</text>
<rect x="128.20" y="356.30" width="15.30" height="15.62" fill="#850b10"/>
<text x="135.77" y="366.58" font-size="6.6" text-anchor="middle" fill="#ffffff" stroke="#ffffff" stroke-width="0.12">198</text>
<rect x="45.80" y="373.22" width="15.30" height="15.27" fill="#850b10"/>
<text x="53.52" y="383.15" font-size="6.6" text-anchor="middle" fill="#ffffff" stroke="#ffffff" stroke-width="0.12">150</text>
<rect x="62.40" y="373.22" width="15.15" height="15.27" fill="#850b10"/>
<text x="69.97" y="383.15" font-size="6.6" text-anchor="middle" fill="#ffffff" stroke="#ffffff" stroke-width="0.12">195</text>
<rect x="78.85" y="373.22" width="15.15" height="15.27" fill="#850b10"/>
<text x="86.42" y="383.15" font-size="6.6" text-anchor="middle" fill="#ffffff" stroke="#ffffff" stroke-width="0.12">198</text>
<rect x="95.30" y="373.22" width="15.15" height="15.27" fill="#850b10"/>
<text x="102.88" y="383.15" font-size="6.6" text-anchor="middle" fill="#ffffff" stroke="#ffffff" stroke-width="0.12">199</text>
<rect x="111.75" y="373.22" width="15.15" height="15.27" fill="#850b10"/>
<text x="119.32" y="383.15" font-size="6.6" text-anchor="middle" fill="#ffffff" stroke="#ffffff" stroke-width="0.12">197</text>
<rect x="128.20" y="373.22" width="15.30" height="15.27" fill="#850b10"/>
<text x="135.77" y="383.15" font-size="6.6" text-anchor="middle" fill="#ffffff" stroke="#ffffff" stroke-width="0.12">197</text>
<rect x="45.80" y="389.78" width="15.30" height="15.27" fill="#850b10"/>
<text x="53.52" y="399.72" font-size="6.6" text-anchor="middle" fill="#ffffff" stroke="#ffffff" stroke-width="0.12">100</text>
<rect x="62.40" y="389.78" width="15.15" height="15.27" fill="#850b10"/>
<text x="69.97" y="399.72" font-size="6.6" text-anchor="middle" fill="#ffffff" stroke="#ffffff" stroke-width="0.12">163</text>
<rect x="78.85" y="389.78" width="15.15" height="15.27" fill="#850b10"/>
<text x="86.42" y="399.72" font-size="6.6" text-anchor="middle" fill="#ffffff" stroke="#ffffff" stroke-width="0.12">186</text>
<rect x="95.30" y="389.78" width="15.15" height="15.27" fill="#850b10"/>
<text x="102.88" y="399.72" font-size="6.6" text-anchor="middle" fill="#ffffff" stroke="#ffffff" stroke-width="0.12">196</text>
<rect x="111.75" y="389.78" width="15.15" height="15.27" fill="#850b10"/>
<text x="119.32" y="399.72" font-size="6.6" text-anchor="middle" fill="#ffffff" stroke="#ffffff" stroke-width="0.12">200</text>
<rect x="128.20" y="389.78" width="15.30" height="15.27" fill="#850b10"/>
<text x="135.77" y="399.72" font-size="6.6" text-anchor="middle" fill="#ffffff" stroke="#ffffff" stroke-width="0.12">199</text>
<rect x="45.80" y="406.35" width="15.30" height="15.27" fill="#fbc8b6"/>
<text x="53.52" y="416.28" font-size="6.6" text-anchor="middle" fill="#3a3a3a" stroke="#3a3a3a" stroke-width="0.12">25</text>
<rect x="62.40" y="406.35" width="15.15" height="15.27" fill="#bf1a1c"/>
<text x="69.97" y="416.28" font-size="6.6" text-anchor="middle" fill="#ffffff" stroke="#ffffff" stroke-width="0.12">93</text>
<rect x="78.85" y="406.35" width="15.15" height="15.27" fill="#850b10"/>
<text x="86.42" y="416.28" font-size="6.6" text-anchor="middle" fill="#ffffff" stroke="#ffffff" stroke-width="0.12">129</text>
<rect x="95.30" y="406.35" width="15.15" height="15.27" fill="#850b10"/>
<text x="102.88" y="416.28" font-size="6.6" text-anchor="middle" fill="#ffffff" stroke="#ffffff" stroke-width="0.12">174</text>
<rect x="111.75" y="406.35" width="15.15" height="15.27" fill="#850b10"/>
<text x="119.32" y="416.28" font-size="6.6" text-anchor="middle" fill="#ffffff" stroke="#ffffff" stroke-width="0.12">192</text>
<rect x="128.20" y="406.35" width="15.30" height="15.27" fill="#850b10"/>
<text x="135.77" y="416.28" font-size="6.6" text-anchor="middle" fill="#ffffff" stroke="#ffffff" stroke-width="0.12">191</text>
<rect x="45.80" y="422.92" width="15.30" height="15.27" fill="#fbc8b6"/>
<text x="53.52" y="432.85" font-size="6.6" text-anchor="middle" fill="#3a3a3a" stroke="#3a3a3a" stroke-width="0.12">25</text>
<rect x="62.40" y="422.92" width="15.15" height="15.27" fill="#bf1a1c"/>
<text x="69.97" y="432.85" font-size="6.6" text-anchor="middle" fill="#ffffff" stroke="#ffffff" stroke-width="0.12">86</text>
<rect x="78.85" y="422.92" width="15.15" height="15.27" fill="#850b10"/>
<text x="86.42" y="432.85" font-size="6.6" text-anchor="middle" fill="#ffffff" stroke="#ffffff" stroke-width="0.12">131</text>
<rect x="95.30" y="422.92" width="15.15" height="15.27" fill="#850b10"/>
<text x="102.88" y="432.85" font-size="6.6" text-anchor="middle" fill="#ffffff" stroke="#ffffff" stroke-width="0.12">174</text>
<rect x="111.75" y="422.92" width="15.15" height="15.27" fill="#850b10"/>
<text x="119.32" y="432.85" font-size="6.6" text-anchor="middle" fill="#ffffff" stroke="#ffffff" stroke-width="0.12">193</text>
<rect x="128.20" y="422.92" width="15.30" height="15.27" fill="#850b10"/>
<text x="135.77" y="432.85" font-size="6.6" text-anchor="middle" fill="#ffffff" stroke="#ffffff" stroke-width="0.12">191</text>
<rect x="45.80" y="439.48" width="15.30" height="15.32" fill="#f3f1f6"/>
<text x="53.52" y="449.42" font-size="6.6" text-anchor="middle" fill="#3a3a3a" stroke="#3a3a3a" stroke-width="0.12">0</text>
<rect x="62.40" y="439.48" width="15.15" height="15.32" fill="#e43a1a"/>
<text x="69.97" y="449.42" font-size="6.6" text-anchor="middle" fill="#ffffff" stroke="#ffffff" stroke-width="0.12">70</text>
<rect x="78.85" y="439.48" width="15.15" height="15.32" fill="#850b10"/>
<text x="86.42" y="449.42" font-size="6.6" text-anchor="middle" fill="#ffffff" stroke="#ffffff" stroke-width="0.12">106</text>
<rect x="95.30" y="439.48" width="15.15" height="15.32" fill="#850b10"/>
<text x="102.88" y="449.42" font-size="6.6" text-anchor="middle" fill="#ffffff" stroke="#ffffff" stroke-width="0.12">162</text>
<rect x="111.75" y="439.48" width="15.15" height="15.32" fill="#850b10"/>
<text x="119.32" y="449.42" font-size="6.6" text-anchor="middle" fill="#ffffff" stroke="#ffffff" stroke-width="0.12">185</text>
<rect x="128.20" y="439.48" width="15.30" height="15.32" fill="#850b10"/>
<text x="135.77" y="449.42" font-size="6.6" text-anchor="middle" fill="#ffffff" stroke="#ffffff" stroke-width="0.12">185</text>
<text x="42.50" y="366.58" font-size="6.6" text-anchor="end" fill="#231f20" stroke="#231f20" stroke-width="0.12">125</text>
<text x="42.50" y="383.15" font-size="6.6" text-anchor="end" fill="#231f20" stroke="#231f20" stroke-width="0.12">42</text>
<text x="42.50" y="399.72" font-size="6.6" text-anchor="end" fill="#231f20" stroke="#231f20" stroke-width="0.12">10</text>
<text x="42.50" y="416.28" font-size="6.6" text-anchor="end" fill="#231f20" stroke="#231f20" stroke-width="0.12">4.2</text>
<text x="42.50" y="432.85" font-size="6.6" text-anchor="end" fill="#231f20" stroke="#231f20" stroke-width="0.12">2.1</text>
<text x="42.50" y="449.42" font-size="6.6" text-anchor="end" fill="#231f20" stroke="#231f20" stroke-width="0.12">0</text>
<text x="53.52" y="466.00" font-size="6.6" text-anchor="middle" fill="#231f20" stroke="#231f20" stroke-width="0.12">0</text>
<text x="69.97" y="466.00" font-size="6.6" text-anchor="middle" fill="#231f20" stroke="#231f20" stroke-width="0.12">2.1</text>
<text x="86.42" y="466.00" font-size="6.6" text-anchor="middle" fill="#231f20" stroke="#231f20" stroke-width="0.12">4.2</text>
<text x="102.88" y="466.00" font-size="6.6" text-anchor="middle" fill="#231f20" stroke="#231f20" stroke-width="0.12">10</text>
<text x="119.32" y="466.00" font-size="6.6" text-anchor="middle" fill="#231f20" stroke="#231f20" stroke-width="0.12">42</text>
<text x="135.77" y="466.00" font-size="6.6" text-anchor="middle" fill="#231f20" stroke="#231f20" stroke-width="0.12">125</text>
<text x="94.80" y="350.50" font-size="8.5" text-anchor="middle" fill="#231f20" stroke="#231f20" stroke-width="0.12">TMD8</text>
<rect x="167.60" y="355.80" width="98.80" height="99.50" fill="#b89494"/>
<rect x="168.10" y="356.10" width="15.32" height="15.63" fill="#850b10"/>
<text x="175.83" y="366.39" font-size="6.6" text-anchor="middle" fill="#ffffff" stroke="#ffffff" stroke-width="0.12">136</text>
<rect x="184.72" y="356.10" width="15.17" height="15.63" fill="#850b10"/>
<text x="192.30" y="366.39" font-size="6.6" text-anchor="middle" fill="#ffffff" stroke="#ffffff" stroke-width="0.12">178</text>
<rect x="201.18" y="356.10" width="15.17" height="15.63" fill="#850b10"/>
<text x="208.77" y="366.39" font-size="6.6" text-anchor="middle" fill="#ffffff" stroke="#ffffff" stroke-width="0.12">197</text>
<rect x="217.65" y="356.10" width="15.17" height="15.63" fill="#850b10"/>
<text x="225.23" y="366.39" font-size="6.6" text-anchor="middle" fill="#ffffff" stroke="#ffffff" stroke-width="0.12">198</text>
<rect x="234.12" y="356.10" width="15.17" height="15.63" fill="#850b10"/>
<text x="241.70" y="366.39" font-size="6.6" text-anchor="middle" fill="#ffffff" stroke="#ffffff" stroke-width="0.12">199</text>
<rect x="250.58" y="356.10" width="15.32" height="15.63" fill="#850b10"/>
<text x="258.17" y="366.39" font-size="6.6" text-anchor="middle" fill="#ffffff" stroke="#ffffff" stroke-width="0.12">199</text>
<rect x="168.10" y="373.03" width="15.32" height="15.28" fill="#850b10"/>
<text x="175.83" y="382.98" font-size="6.6" text-anchor="middle" fill="#ffffff" stroke="#ffffff" stroke-width="0.12">103</text>
<rect x="184.72" y="373.03" width="15.17" height="15.28" fill="#850b10"/>
<text x="192.30" y="382.98" font-size="6.6" text-anchor="middle" fill="#ffffff" stroke="#ffffff" stroke-width="0.12">170</text>
<rect x="201.18" y="373.03" width="15.17" height="15.28" fill="#850b10"/>
<text x="208.77" y="382.98" font-size="6.6" text-anchor="middle" fill="#ffffff" stroke="#ffffff" stroke-width="0.12">197</text>
<rect x="217.65" y="373.03" width="15.17" height="15.28" fill="#850b10"/>
<text x="225.23" y="382.98" font-size="6.6" text-anchor="middle" fill="#ffffff" stroke="#ffffff" stroke-width="0.12">198</text>
<rect x="234.12" y="373.03" width="15.17" height="15.28" fill="#850b10"/>
<text x="241.70" y="382.98" font-size="6.6" text-anchor="middle" fill="#ffffff" stroke="#ffffff" stroke-width="0.12">197</text>
<rect x="250.58" y="373.03" width="15.32" height="15.28" fill="#850b10"/>
<text x="258.17" y="382.98" font-size="6.6" text-anchor="middle" fill="#ffffff" stroke="#ffffff" stroke-width="0.12">199</text>
<rect x="168.10" y="389.62" width="15.32" height="15.28" fill="#e6421a"/>
<text x="175.83" y="399.56" font-size="6.6" text-anchor="middle" fill="#ffffff" stroke="#ffffff" stroke-width="0.12">58</text>
<rect x="184.72" y="389.62" width="15.17" height="15.28" fill="#850b10"/>
<text x="192.30" y="399.56" font-size="6.6" text-anchor="middle" fill="#ffffff" stroke="#ffffff" stroke-width="0.12">110</text>
<rect x="201.18" y="389.62" width="15.17" height="15.28" fill="#850b10"/>
<text x="208.77" y="399.56" font-size="6.6" text-anchor="middle" fill="#ffffff" stroke="#ffffff" stroke-width="0.12">144</text>
<rect x="217.65" y="389.62" width="15.17" height="15.28" fill="#850b10"/>
<text x="225.23" y="399.56" font-size="6.6" text-anchor="middle" fill="#ffffff" stroke="#ffffff" stroke-width="0.12">179</text>
<rect x="234.12" y="389.62" width="15.17" height="15.28" fill="#850b10"/>
<text x="241.70" y="399.56" font-size="6.6" text-anchor="middle" fill="#ffffff" stroke="#ffffff" stroke-width="0.12">196</text>
<rect x="250.58" y="389.62" width="15.32" height="15.28" fill="#850b10"/>
<text x="258.17" y="399.56" font-size="6.6" text-anchor="middle" fill="#ffffff" stroke="#ffffff" stroke-width="0.12">194</text>
<rect x="168.10" y="406.20" width="15.32" height="15.28" fill="#fbc8b6"/>
<text x="175.83" y="416.14" font-size="6.6" text-anchor="middle" fill="#3a3a3a" stroke="#3a3a3a" stroke-width="0.12">29</text>
<rect x="184.72" y="406.20" width="15.17" height="15.28" fill="#bf1a1c"/>
<text x="192.30" y="416.14" font-size="6.6" text-anchor="middle" fill="#ffffff" stroke="#ffffff" stroke-width="0.12">87</text>
<rect x="201.18" y="406.20" width="15.17" height="15.28" fill="#850b10"/>
<text x="208.77" y="416.14" font-size="6.6" text-anchor="middle" fill="#ffffff" stroke="#ffffff" stroke-width="0.12">137</text>
<rect x="217.65" y="406.20" width="15.17" height="15.28" fill="#850b10"/>
<text x="225.23" y="416.14" font-size="6.6" text-anchor="middle" fill="#ffffff" stroke="#ffffff" stroke-width="0.12">167</text>
<rect x="234.12" y="406.20" width="15.17" height="15.28" fill="#850b10"/>
<text x="241.70" y="416.14" font-size="6.6" text-anchor="middle" fill="#ffffff" stroke="#ffffff" stroke-width="0.12">186</text>
<rect x="250.58" y="406.20" width="15.32" height="15.28" fill="#850b10"/>
<text x="258.17" y="416.14" font-size="6.6" text-anchor="middle" fill="#ffffff" stroke="#ffffff" stroke-width="0.12">185</text>
<rect x="168.10" y="422.78" width="15.32" height="15.28" fill="#fbc8b6"/>
<text x="175.83" y="432.73" font-size="6.6" text-anchor="middle" fill="#3a3a3a" stroke="#3a3a3a" stroke-width="0.12">27</text>
<rect x="184.72" y="422.78" width="15.17" height="15.28" fill="#bf1a1c"/>
<text x="192.30" y="432.73" font-size="6.6" text-anchor="middle" fill="#ffffff" stroke="#ffffff" stroke-width="0.12">86</text>
<rect x="201.18" y="422.78" width="15.17" height="15.28" fill="#850b10"/>
<text x="208.77" y="432.73" font-size="6.6" text-anchor="middle" fill="#ffffff" stroke="#ffffff" stroke-width="0.12">123</text>
<rect x="217.65" y="422.78" width="15.17" height="15.28" fill="#850b10"/>
<text x="225.23" y="432.73" font-size="6.6" text-anchor="middle" fill="#ffffff" stroke="#ffffff" stroke-width="0.12">161</text>
<rect x="234.12" y="422.78" width="15.17" height="15.28" fill="#850b10"/>
<text x="241.70" y="432.73" font-size="6.6" text-anchor="middle" fill="#ffffff" stroke="#ffffff" stroke-width="0.12">182</text>
<rect x="250.58" y="422.78" width="15.32" height="15.28" fill="#850b10"/>
<text x="258.17" y="432.73" font-size="6.6" text-anchor="middle" fill="#ffffff" stroke="#ffffff" stroke-width="0.12">181</text>
<rect x="168.10" y="439.37" width="15.32" height="15.33" fill="#f3f1f6"/>
<text x="175.83" y="449.31" font-size="6.6" text-anchor="middle" fill="#3a3a3a" stroke="#3a3a3a" stroke-width="0.12">0</text>
<rect x="184.72" y="439.37" width="15.17" height="15.33" fill="#e6421a"/>
<text x="192.30" y="449.31" font-size="6.6" text-anchor="middle" fill="#ffffff" stroke="#ffffff" stroke-width="0.12">56</text>
<rect x="201.18" y="439.37" width="15.17" height="15.33" fill="#850b10"/>
<text x="208.77" y="449.31" font-size="6.6" text-anchor="middle" fill="#ffffff" stroke="#ffffff" stroke-width="0.12">119</text>
<rect x="217.65" y="439.37" width="15.17" height="15.33" fill="#850b10"/>
<text x="225.23" y="449.31" font-size="6.6" text-anchor="middle" fill="#ffffff" stroke="#ffffff" stroke-width="0.12">156</text>
<rect x="234.12" y="439.37" width="15.17" height="15.33" fill="#850b10"/>
<text x="241.70" y="449.31" font-size="6.6" text-anchor="middle" fill="#ffffff" stroke="#ffffff" stroke-width="0.12">176</text>
<rect x="250.58" y="439.37" width="15.32" height="15.33" fill="#850b10"/>
<text x="258.17" y="449.31" font-size="6.6" text-anchor="middle" fill="#ffffff" stroke="#ffffff" stroke-width="0.12">178</text>
<text x="164.80" y="366.39" font-size="6.6" text-anchor="end" fill="#231f20" stroke="#231f20" stroke-width="0.12">125</text>
<text x="164.80" y="382.98" font-size="6.6" text-anchor="end" fill="#231f20" stroke="#231f20" stroke-width="0.12">42</text>
<text x="164.80" y="399.56" font-size="6.6" text-anchor="end" fill="#231f20" stroke="#231f20" stroke-width="0.12">10</text>
<text x="164.80" y="416.14" font-size="6.6" text-anchor="end" fill="#231f20" stroke="#231f20" stroke-width="0.12">4.2</text>
<text x="164.80" y="432.73" font-size="6.6" text-anchor="end" fill="#231f20" stroke="#231f20" stroke-width="0.12">2.1</text>
<text x="164.80" y="449.31" font-size="6.6" text-anchor="end" fill="#231f20" stroke="#231f20" stroke-width="0.12">0</text>
<text x="175.83" y="466.00" font-size="6.6" text-anchor="middle" fill="#231f20" stroke="#231f20" stroke-width="0.12">0</text>
<text x="192.30" y="466.00" font-size="6.6" text-anchor="middle" fill="#231f20" stroke="#231f20" stroke-width="0.12">2.1</text>
<text x="208.77" y="466.00" font-size="6.6" text-anchor="middle" fill="#231f20" stroke="#231f20" stroke-width="0.12">4.2</text>
<text x="225.23" y="466.00" font-size="6.6" text-anchor="middle" fill="#231f20" stroke="#231f20" stroke-width="0.12">10</text>
<text x="241.70" y="466.00" font-size="6.6" text-anchor="middle" fill="#231f20" stroke="#231f20" stroke-width="0.12">42</text>
<text x="258.17" y="466.00" font-size="6.6" text-anchor="middle" fill="#231f20" stroke="#231f20" stroke-width="0.12">125</text>
<text x="217.10" y="350.50" font-size="8.7" text-anchor="middle" fill="#231f20" stroke="#231f20" stroke-width="0.12">TMD8-CD79B WT</text>
<text x="26.00" y="407.00" font-size="7.2" text-anchor="middle" fill="#231f20" stroke="#231f20" stroke-width="0.35" transform="rotate(-90 26 407)" textLength="38.5" lengthAdjust="spacingAndGlyphs">AZD5153 (nM)</text>
<text x="142.50" y="487.00" font-size="7.4" text-anchor="middle" fill="#231f20" stroke="#231f20" stroke-width="0.3" textLength="48.7" lengthAdjust="spacingAndGlyphs">Acalabrutinib (nM)</text>
<text x="422.30" y="342.00" font-size="8.35" text-anchor="middle" fill="#231f20" stroke="#231f20" stroke-width="0.12">Caspase 3/7 activity - TMD8</text>
<line x1="335.3" y1="375" x2="335.3" y2="437.79999999999995" stroke="#231f20" stroke-width="0.95"/>
<line x1="335.3" y1="348.2" x2="335.3" y2="367.8" stroke="#231f20" stroke-width="0.95"/>
<line x1="332.5" y1="437.4" x2="335.3" y2="437.4" stroke="#231f20" stroke-width="0.95"/>
<text x="329.10" y="439.60" font-size="6.3" text-anchor="end" fill="#231f20" stroke="#231f20" stroke-width="0.12">0</text>
<line x1="332.5" y1="416.59999999999997" x2="335.3" y2="416.59999999999997" stroke="#231f20" stroke-width="0.95"/>
<text x="329.10" y="418.80" font-size="6.3" text-anchor="end" fill="#231f20" stroke="#231f20" stroke-width="0.12">1</text>
<line x1="332.5" y1="395.79999999999995" x2="335.3" y2="395.79999999999995" stroke="#231f20" stroke-width="0.95"/>
<text x="329.10" y="398.00" font-size="6.3" text-anchor="end" fill="#231f20" stroke="#231f20" stroke-width="0.12">2</text>
<line x1="332.5" y1="375.0" x2="335.3" y2="375.0" stroke="#231f20" stroke-width="0.95"/>
<text x="329.10" y="377.20" font-size="6.3" text-anchor="end" fill="#231f20" stroke="#231f20" stroke-width="0.12">3</text>
<line x1="332.5" y1="349.6" x2="335.3" y2="349.6" stroke="#231f20" stroke-width="0.95"/>
<text x="329.10" y="351.80" font-size="6.3" text-anchor="end" fill="#231f20" stroke="#231f20" stroke-width="0.12">7</text>
<line x1="332.5" y1="367.8" x2="335.3" y2="367.8" stroke="#231f20" stroke-width="0.95"/>
<text x="329.10" y="370.00" font-size="6.3" text-anchor="end" fill="#231f20" stroke="#231f20" stroke-width="0.12">6</text>
<line x1="333.1" y1="368.1" x2="337.5" y2="368.1" stroke="#231f20" stroke-width="0.9"/>
<line x1="333.1" y1="374.8" x2="337.5" y2="374.8" stroke="#231f20" stroke-width="0.9"/>
<line x1="334.90000000000003" y1="437.4" x2="512.4" y2="437.4" stroke="#231f20" stroke-width="0.95"/>
<line x1="343.5" y1="417.01599999999996" x2="343.5" y2="412.856" stroke="#231f20" stroke-width="0.8"/>
<line x1="341.2" y1="412.856" x2="345.8" y2="412.856" stroke="#231f20" stroke-width="0.8"/>
<rect x="338.90" y="417.02" width="9.20" height="20.38" fill="#475162"/>
<line x1="343.5" y1="437.4" x2="343.5" y2="439.4" stroke="#231f20" stroke-width="0.95"/>
<line x1="356.5" y1="417.01599999999996" x2="356.5" y2="415.55999999999995" stroke="#231f20" stroke-width="0.8"/>
<line x1="354.2" y1="415.55999999999995" x2="358.8" y2="415.55999999999995" stroke="#231f20" stroke-width="0.8"/>
<rect x="351.90" y="417.02" width="9.20" height="20.38" fill="#475162"/>
<line x1="356.5" y1="437.4" x2="356.5" y2="439.4" stroke="#231f20" stroke-width="0.95"/>
<line x1="373.3" y1="410.984" x2="373.3" y2="407.65599999999995" stroke="#231f20" stroke-width="0.8"/>
<line x1="371.0" y1="407.65599999999995" x2="375.6" y2="407.65599999999995" stroke="#231f20" stroke-width="0.8"/>
<rect x="368.70" y="410.98" width="9.20" height="26.42" fill="#36a4e0"/>
<circle cx="373.3" cy="403.36" r="1.05" fill="#231f20"/>
<line x1="373.3" y1="437.4" x2="373.3" y2="439.4" stroke="#231f20" stroke-width="0.95"/>
<line x1="385.8" y1="412.856" x2="385.8" y2="408.904" stroke="#231f20" stroke-width="0.8"/>
<line x1="383.5" y1="408.904" x2="388.1" y2="408.904" stroke="#231f20" stroke-width="0.8"/>
<rect x="381.20" y="412.86" width="9.20" height="24.54" fill="#36a4e0"/>
<line x1="385.8" y1="437.4" x2="385.8" y2="439.4" stroke="#231f20" stroke-width="0.95"/>
<line x1="402.6" y1="408.072" x2="402.6" y2="405.15999999999997" stroke="#231f20" stroke-width="0.8"/>
<line x1="400.3" y1="405.15999999999997" x2="404.90000000000003" y2="405.15999999999997" stroke="#231f20" stroke-width="0.8"/>
<rect x="398.00" y="408.07" width="9.20" height="29.33" fill="#0f4c8c"/>
<circle cx="402.6" cy="400.86" r="1.05" fill="#231f20"/>
<line x1="402.6" y1="437.4" x2="402.6" y2="439.4" stroke="#231f20" stroke-width="0.95"/>
<line x1="415.7" y1="412.856" x2="415.7" y2="407.032" stroke="#231f20" stroke-width="0.8"/>
<line x1="413.4" y1="407.032" x2="418.0" y2="407.032" stroke="#231f20" stroke-width="0.8"/>
<rect x="411.10" y="412.86" width="9.20" height="24.54" fill="#0f4c8c"/>
<line x1="415.7" y1="437.4" x2="415.7" y2="439.4" stroke="#231f20" stroke-width="0.95"/>
<line x1="432.3" y1="399.544" x2="432.3" y2="391.64" stroke="#231f20" stroke-width="0.8"/>
<line x1="430.0" y1="391.64" x2="434.6" y2="391.64" stroke="#231f20" stroke-width="0.8"/>
<rect x="427.70" y="399.54" width="9.20" height="37.86" fill="#cc0a2c"/>
<circle cx="432.3" cy="387.34" r="1.05" fill="#231f20"/>
<line x1="432.3" y1="437.4" x2="432.3" y2="439.4" stroke="#231f20" stroke-width="0.95"/>
<line x1="445.3" y1="403.70399999999995" x2="445.3" y2="399.544" stroke="#231f20" stroke-width="0.8"/>
<line x1="443.0" y1="399.544" x2="447.6" y2="399.544" stroke="#231f20" stroke-width="0.8"/>
<rect x="440.70" y="403.70" width="9.20" height="33.70" fill="#cc0a2c"/>
<circle cx="445.3" cy="395.24" r="1.05" fill="#231f20"/>
<line x1="445.3" y1="437.4" x2="445.3" y2="439.4" stroke="#231f20" stroke-width="0.95"/>
<line x1="461.9" y1="387.89599999999996" x2="461.9" y2="383.32" stroke="#231f20" stroke-width="0.8"/>
<line x1="459.59999999999997" y1="383.32" x2="464.2" y2="383.32" stroke="#231f20" stroke-width="0.8"/>
<rect x="457.30" y="387.90" width="9.20" height="49.50" fill="#9a8ed0"/>
<circle cx="461.9" cy="379.02" r="1.05" fill="#231f20"/>
<line x1="461.9" y1="437.4" x2="461.9" y2="439.4" stroke="#231f20" stroke-width="0.95"/>
<line x1="475" y1="394.344" x2="475" y2="391.64" stroke="#231f20" stroke-width="0.8"/>
<line x1="472.7" y1="391.64" x2="477.3" y2="391.64" stroke="#231f20" stroke-width="0.8"/>
<rect x="470.40" y="394.34" width="9.20" height="43.06" fill="#9a8ed0"/>
<circle cx="475" cy="387.34" r="1.05" fill="#231f20"/>
<line x1="475" y1="437.4" x2="475" y2="439.4" stroke="#231f20" stroke-width="0.95"/>
<rect x="487.10" y="375.00" width="9.00" height="62.40" fill="#5a1864"/>
<rect x="487.10" y="357.20" width="9.00" height="10.00" fill="#5a1864"/>
<line x1="491.6" y1="357.2" x2="491.6" y2="355.3" stroke="#231f20" stroke-width="0.8"/>
<line x1="489.3" y1="355.3" x2="493.90000000000003" y2="355.3" stroke="#231f20" stroke-width="0.8"/>
<circle cx="491.6" cy="350.6" r="1.05" fill="#231f20"/>
<line x1="491.6" y1="437.4" x2="491.6" y2="439.4" stroke="#231f20" stroke-width="0.95"/>
<rect x="500.10" y="380.80" width="9.00" height="56.60" fill="#5a1864"/>
<line x1="504.6" y1="380.8" x2="504.6" y2="379.3" stroke="#231f20" stroke-width="0.8"/>
<line x1="502.3" y1="379.3" x2="506.90000000000003" y2="379.3" stroke="#231f20" stroke-width="0.8"/>
<circle cx="504.6" cy="374.6" r="1.05" fill="#231f20"/>
<line x1="504.6" y1="437.4" x2="504.6" y2="439.4" stroke="#231f20" stroke-width="0.95"/>
<text x="321.00" y="392.20" font-size="7.3" text-anchor="middle" fill="#231f20" stroke="#231f20" stroke-width="0.12" transform="rotate(-90 321 392.2)" textLength="53.5" lengthAdjust="spacingAndGlyphs">Luminescence (fold)</text>
<text x="328.80" y="448.80" font-size="6.5" text-anchor="end" fill="#231f20" stroke="#231f20" stroke-width="0.12">CD79B status</text>
<text x="328.80" y="463.80" font-size="6.4" text-anchor="end" fill="#231f20" stroke="#231f20" stroke-width="0.12" textLength="49" lengthAdjust="spacingAndGlyphs">acalabrutinib (nM)</text>
<text x="328.80" y="474.30" font-size="6.4" text-anchor="end" fill="#231f20" stroke="#231f20" stroke-width="0.12">AZD5153 (nM)</text>
<text x="343.50" y="448.80" font-size="6.5" text-anchor="middle" fill="#231f20" stroke="#231f20" stroke-width="0.12">Mut</text>
<text x="343.50" y="463.80" font-size="6.3" text-anchor="middle" fill="#231f20" stroke="#231f20" stroke-width="0.12">-</text>
<text x="343.50" y="474.30" font-size="6.3" text-anchor="middle" fill="#231f20" stroke="#231f20" stroke-width="0.12">-</text>
<text x="356.50" y="448.80" font-size="6.5" text-anchor="middle" fill="#231f20" stroke="#231f20" stroke-width="0.12">WT</text>
<text x="356.50" y="463.80" font-size="6.3" text-anchor="middle" fill="#231f20" stroke="#231f20" stroke-width="0.12">-</text>
<text x="356.50" y="474.30" font-size="6.3" text-anchor="middle" fill="#231f20" stroke="#231f20" stroke-width="0.12">-</text>
<text x="373.30" y="448.80" font-size="6.5" text-anchor="middle" fill="#231f20" stroke="#231f20" stroke-width="0.12">Mut</text>
<text x="373.30" y="463.80" font-size="6.3" text-anchor="middle" fill="#231f20" stroke="#231f20" stroke-width="0.12">-</text>
<text x="373.30" y="474.30" font-size="6.3" text-anchor="middle" fill="#231f20" stroke="#231f20" stroke-width="0.12">4</text>
<text x="385.80" y="448.80" font-size="6.5" text-anchor="middle" fill="#231f20" stroke="#231f20" stroke-width="0.12">WT</text>
<text x="385.80" y="463.80" font-size="6.3" text-anchor="middle" fill="#231f20" stroke="#231f20" stroke-width="0.12">-</text>
<text x="385.80" y="474.30" font-size="6.3" text-anchor="middle" fill="#231f20" stroke="#231f20" stroke-width="0.12">4</text>
<text x="402.60" y="448.80" font-size="6.5" text-anchor="middle" fill="#231f20" stroke="#231f20" stroke-width="0.12">Mut</text>
<text x="402.60" y="463.80" font-size="6.3" text-anchor="middle" fill="#231f20" stroke="#231f20" stroke-width="0.12">-</text>
<text x="402.60" y="474.30" font-size="6.3" text-anchor="middle" fill="#231f20" stroke="#231f20" stroke-width="0.12">10</text>
<text x="415.70" y="448.80" font-size="6.5" text-anchor="middle" fill="#231f20" stroke="#231f20" stroke-width="0.12">WT</text>
<text x="415.70" y="463.80" font-size="6.3" text-anchor="middle" fill="#231f20" stroke="#231f20" stroke-width="0.12">-</text>
<text x="415.70" y="474.30" font-size="6.3" text-anchor="middle" fill="#231f20" stroke="#231f20" stroke-width="0.12">10</text>
<text x="432.30" y="448.80" font-size="6.5" text-anchor="middle" fill="#231f20" stroke="#231f20" stroke-width="0.12">Mut</text>
<text x="432.30" y="463.80" font-size="6.3" text-anchor="middle" fill="#231f20" stroke="#231f20" stroke-width="0.12">2</text>
<text x="432.30" y="474.30" font-size="6.3" text-anchor="middle" fill="#231f20" stroke="#231f20" stroke-width="0.12">-</text>
<text x="445.30" y="448.80" font-size="6.5" text-anchor="middle" fill="#231f20" stroke="#231f20" stroke-width="0.12">WT</text>
<text x="445.30" y="463.80" font-size="6.3" text-anchor="middle" fill="#231f20" stroke="#231f20" stroke-width="0.12">2</text>
<text x="445.30" y="474.30" font-size="6.3" text-anchor="middle" fill="#231f20" stroke="#231f20" stroke-width="0.12">-</text>
<text x="461.90" y="448.80" font-size="6.5" text-anchor="middle" fill="#231f20" stroke="#231f20" stroke-width="0.12">Mut</text>
<text x="461.90" y="463.80" font-size="6.3" text-anchor="middle" fill="#231f20" stroke="#231f20" stroke-width="0.12">2</text>
<text x="461.90" y="474.30" font-size="6.3" text-anchor="middle" fill="#231f20" stroke="#231f20" stroke-width="0.12">4</text>
<text x="475.00" y="448.80" font-size="6.5" text-anchor="middle" fill="#231f20" stroke="#231f20" stroke-width="0.12">WT</text>
<text x="475.00" y="463.80" font-size="6.3" text-anchor="middle" fill="#231f20" stroke="#231f20" stroke-width="0.12">2</text>
<text x="475.00" y="474.30" font-size="6.3" text-anchor="middle" fill="#231f20" stroke="#231f20" stroke-width="0.12">4</text>
<text x="491.60" y="448.80" font-size="6.5" text-anchor="middle" fill="#231f20" stroke="#231f20" stroke-width="0.12">Mut</text>
<text x="491.60" y="463.80" font-size="6.3" text-anchor="middle" fill="#231f20" stroke="#231f20" stroke-width="0.12">2</text>
<text x="491.60" y="474.30" font-size="6.3" text-anchor="middle" fill="#231f20" stroke="#231f20" stroke-width="0.12">10</text>
<text x="504.60" y="448.80" font-size="6.5" text-anchor="middle" fill="#231f20" stroke="#231f20" stroke-width="0.12">WT</text>
<text x="504.60" y="463.80" font-size="6.3" text-anchor="middle" fill="#231f20" stroke="#231f20" stroke-width="0.12">2</text>
<text x="504.60" y="474.30" font-size="6.3" text-anchor="middle" fill="#231f20" stroke="#231f20" stroke-width="0.12">10</text>
<text x="126.00" y="516.90" font-size="8" text-anchor="middle" fill="#231f20" stroke="#231f20" stroke-width="0.12">PAX5</text>
<line x1="65" y1="528.8" x2="65" y2="601.6" stroke="#231f20" stroke-width="0.95"/>
<line x1="62" y1="531.32" x2="65" y2="531.32" stroke="#231f20" stroke-width="0.95"/>
<text x="59.00" y="533.52" font-size="6.5" text-anchor="end" fill="#231f20" stroke="#231f20" stroke-width="0.12">1.00</text>
<line x1="62" y1="548.7900000000001" x2="65" y2="548.7900000000001" stroke="#231f20" stroke-width="0.95"/>
<text x="59.00" y="550.99" font-size="6.5" text-anchor="end" fill="#231f20" stroke="#231f20" stroke-width="0.12">0.75</text>
<line x1="62" y1="566.26" x2="65" y2="566.26" stroke="#231f20" stroke-width="0.95"/>
<text x="59.00" y="568.46" font-size="6.5" text-anchor="end" fill="#231f20" stroke="#231f20" stroke-width="0.12">0.50</text>
<line x1="62" y1="583.73" x2="65" y2="583.73" stroke="#231f20" stroke-width="0.95"/>
<text x="59.00" y="585.93" font-size="6.5" text-anchor="end" fill="#231f20" stroke="#231f20" stroke-width="0.12">0.25</text>
<line x1="62" y1="601.2" x2="65" y2="601.2" stroke="#231f20" stroke-width="0.95"/>
<text x="59.00" y="603.40" font-size="6.5" text-anchor="end" fill="#231f20" stroke="#231f20" stroke-width="0.12">0.00</text>
<line x1="64.6" y1="601.2" x2="187.2" y2="601.2" stroke="#231f20" stroke-width="0.95"/>
<line x1="71.55" y1="531.32" x2="71.55" y2="523.6332" stroke="#231f20" stroke-width="0.7"/>
<line x1="69.75" y1="523.6332" x2="73.35" y2="523.6332" stroke="#231f20" stroke-width="0.7"/>
<rect x="68.30" y="531.32" width="6.50" height="69.88" fill="#475162"/>
<line x1="71.55" y1="601.2" x2="71.55" y2="603.2" stroke="#231f20" stroke-width="0.95"/>
<text x="73.55" y="611.70" font-size="6.0" text-anchor="end" fill="#231f20" stroke="#231f20" stroke-width="0.12" transform="rotate(-45 73.55 611.7)">Mut</text>
<line x1="80.35" y1="531.32" x2="80.35" y2="529.9224" stroke="#231f20" stroke-width="0.7"/>
<line x1="78.55" y1="529.9224" x2="82.14999999999999" y2="529.9224" stroke="#231f20" stroke-width="0.7"/>
<rect x="77.10" y="531.32" width="6.50" height="69.88" fill="#475162"/>
<line x1="80.35" y1="601.2" x2="80.35" y2="603.2" stroke="#231f20" stroke-width="0.95"/>
<text x="82.35" y="611.70" font-size="6.0" text-anchor="end" fill="#231f20" stroke="#231f20" stroke-width="0.12" transform="rotate(-45 82.35 611.7)">WT</text>
<line x1="92.25" y1="556.96596" x2="92.25" y2="556.1274000000001" stroke="#231f20" stroke-width="0.7"/>
<line x1="90.45" y1="556.1274000000001" x2="94.05" y2="556.1274000000001" stroke="#231f20" stroke-width="0.7"/>
<rect x="89.00" y="556.97" width="6.50" height="44.23" fill="#36a4e0"/>
<circle cx="92.25" cy="552.33" r="1.0" fill="#231f20"/>
<line x1="92.25" y1="601.2" x2="92.25" y2="603.2" stroke="#231f20" stroke-width="0.95"/>
<text x="94.25" y="611.70" font-size="6.0" text-anchor="end" fill="#231f20" stroke="#231f20" stroke-width="0.12" transform="rotate(-45 94.25 611.7)">Mut</text>
<line x1="100.55" y1="547.7418" x2="100.55" y2="546.3442" stroke="#231f20" stroke-width="0.7"/>
<line x1="98.75" y1="546.3442" x2="102.35" y2="546.3442" stroke="#231f20" stroke-width="0.7"/>
<rect x="97.30" y="547.74" width="6.50" height="53.46" fill="#36a4e0"/>
<circle cx="100.55" cy="542.54" r="1.0" fill="#231f20"/>
<line x1="100.55" y1="601.2" x2="100.55" y2="603.2" stroke="#231f20" stroke-width="0.95"/>
<text x="102.55" y="611.70" font-size="6.0" text-anchor="end" fill="#231f20" stroke="#231f20" stroke-width="0.12" transform="rotate(-45 102.55 611.7)">WT</text>
<line x1="112.85" y1="566.26" x2="112.85" y2="564.513" stroke="#231f20" stroke-width="0.7"/>
<line x1="111.05" y1="564.513" x2="114.64999999999999" y2="564.513" stroke="#231f20" stroke-width="0.7"/>
<rect x="109.60" y="566.26" width="6.50" height="34.94" fill="#0f4c8c"/>
<circle cx="112.85" cy="560.71" r="1.0" fill="#231f20"/>
<line x1="112.85" y1="601.2" x2="112.85" y2="603.2" stroke="#231f20" stroke-width="0.95"/>
<text x="114.85" y="611.70" font-size="6.0" text-anchor="end" fill="#231f20" stroke="#231f20" stroke-width="0.12" transform="rotate(-45 114.85 611.7)">Mut</text>
<line x1="121.55" y1="552.9828" x2="121.55" y2="550.537" stroke="#231f20" stroke-width="0.7"/>
<line x1="119.75" y1="550.537" x2="123.35" y2="550.537" stroke="#231f20" stroke-width="0.7"/>
<rect x="118.30" y="552.98" width="6.50" height="48.22" fill="#0f4c8c"/>
<circle cx="121.55" cy="546.74" r="1.0" fill="#231f20"/>
<line x1="121.55" y1="601.2" x2="121.55" y2="603.2" stroke="#231f20" stroke-width="0.95"/>
<text x="123.55" y="611.70" font-size="6.0" text-anchor="end" fill="#231f20" stroke="#231f20" stroke-width="0.12" transform="rotate(-45 123.55 611.7)">WT</text>
<line x1="133.25" y1="571.1516" x2="133.25" y2="566.26" stroke="#231f20" stroke-width="0.7"/>
<line x1="131.45" y1="566.26" x2="135.05" y2="566.26" stroke="#231f20" stroke-width="0.7"/>
<rect x="130.00" y="571.15" width="6.50" height="30.05" fill="#cc0a2c"/>
<circle cx="133.25" cy="562.46" r="1.0" fill="#231f20"/>
<line x1="133.25" y1="601.2" x2="133.25" y2="603.2" stroke="#231f20" stroke-width="0.95"/>
<text x="135.25" y="611.70" font-size="6.0" text-anchor="end" fill="#231f20" stroke="#231f20" stroke-width="0.12" transform="rotate(-45 135.25 611.7)">Mut</text>
<line x1="141.75" y1="569.4046000000001" x2="141.75" y2="567.3082" stroke="#231f20" stroke-width="0.7"/>
<line x1="139.95" y1="567.3082" x2="143.55" y2="567.3082" stroke="#231f20" stroke-width="0.7"/>
<rect x="138.50" y="569.40" width="6.50" height="31.80" fill="#cc0a2c"/>
<circle cx="141.75" cy="563.51" r="1.0" fill="#231f20"/>
<line x1="141.75" y1="601.2" x2="141.75" y2="603.2" stroke="#231f20" stroke-width="0.95"/>
<text x="143.75" y="611.70" font-size="6.0" text-anchor="end" fill="#231f20" stroke="#231f20" stroke-width="0.12" transform="rotate(-45 143.75 611.7)">WT</text>
<line x1="153.25" y1="577.0914" x2="153.25" y2="574.7853600000001" stroke="#231f20" stroke-width="0.7"/>
<line x1="151.45" y1="574.7853600000001" x2="155.05" y2="574.7853600000001" stroke="#231f20" stroke-width="0.7"/>
<rect x="150.00" y="577.09" width="6.50" height="24.11" fill="#9a8ed0"/>
<circle cx="153.25" cy="570.99" r="1.0" fill="#231f20"/>
<line x1="153.25" y1="601.2" x2="153.25" y2="603.2" stroke="#231f20" stroke-width="0.95"/>
<text x="155.25" y="611.70" font-size="6.0" text-anchor="end" fill="#231f20" stroke="#231f20" stroke-width="0.12" transform="rotate(-45 155.25 611.7)">Mut</text>
<line x1="162.15" y1="574.43596" x2="162.15" y2="572.1998000000001" stroke="#231f20" stroke-width="0.7"/>
<line x1="160.35" y1="572.1998000000001" x2="163.95000000000002" y2="572.1998000000001" stroke="#231f20" stroke-width="0.7"/>
<rect x="158.90" y="574.44" width="6.50" height="26.76" fill="#9a8ed0"/>
<circle cx="162.15" cy="568.40" r="1.0" fill="#231f20"/>
<line x1="162.15" y1="601.2" x2="162.15" y2="603.2" stroke="#231f20" stroke-width="0.95"/>
<text x="164.15" y="611.70" font-size="6.0" text-anchor="end" fill="#231f20" stroke="#231f20" stroke-width="0.12" transform="rotate(-45 164.15 611.7)">WT</text>
<line x1="174.35" y1="583.73" x2="174.35" y2="581.07456" stroke="#231f20" stroke-width="0.7"/>
<line x1="172.54999999999998" y1="581.07456" x2="176.15" y2="581.07456" stroke="#231f20" stroke-width="0.7"/>
<rect x="171.10" y="583.73" width="6.50" height="17.47" fill="#5a1864"/>
<circle cx="174.35" cy="577.27" r="1.0" fill="#231f20"/>
<line x1="174.35" y1="601.2" x2="174.35" y2="603.2" stroke="#231f20" stroke-width="0.95"/>
<text x="176.35" y="611.70" font-size="6.0" text-anchor="end" fill="#231f20" stroke="#231f20" stroke-width="0.12" transform="rotate(-45 176.35 611.7)">Mut</text>
<line x1="182.75" y1="577.58056" x2="182.75" y2="577.0914" stroke="#231f20" stroke-width="0.7"/>
<line x1="180.95" y1="577.0914" x2="184.55" y2="577.0914" stroke="#231f20" stroke-width="0.7"/>
<rect x="179.50" y="577.58" width="6.50" height="23.62" fill="#5a1864"/>
<circle cx="182.75" cy="573.29" r="1.0" fill="#231f20"/>
<line x1="182.75" y1="601.2" x2="182.75" y2="603.2" stroke="#231f20" stroke-width="0.95"/>
<text x="184.75" y="611.70" font-size="6.0" text-anchor="end" fill="#231f20" stroke="#231f20" stroke-width="0.12" transform="rotate(-45 184.75 611.7)">WT</text>
<polyline points="132.8,557.7 132.8,549.2 173.5,549.2 173.5,557.7" fill="none" stroke="#231f20" stroke-width="0.7"/>
<text x="153.10" y="545.20" font-size="6.5" text-anchor="middle" fill="#231f20" stroke="#231f20" stroke-width="0.12">#</text>
<polyline points="142,545.4 142,537.2 182.8,537.2 182.8,545.8" fill="none" stroke="#231f20" stroke-width="0.7"/>
<text x="162.00" y="533.20" font-size="6.5" text-anchor="middle" fill="#231f20" stroke="#231f20" stroke-width="0.12">#</text>
<text x="41.20" y="559.40" font-size="7.2" text-anchor="middle" fill="#231f20" stroke="#231f20" stroke-width="0.12" transform="rotate(-90 41.2 559.4)" textLength="44.7" lengthAdjust="spacingAndGlyphs">Rel. fluorescence</text>
<text x="316.00" y="516.90" font-size="8" text-anchor="middle" fill="#231f20" stroke="#231f20" stroke-width="0.12">STAT5A</text>
<line x1="254.3" y1="528.8" x2="254.3" y2="601.6" stroke="#231f20" stroke-width="0.95"/>
<line x1="251.3" y1="531.32" x2="254.3" y2="531.32" stroke="#231f20" stroke-width="0.95"/>
<text x="248.30" y="533.52" font-size="6.5" text-anchor="end" fill="#231f20" stroke="#231f20" stroke-width="0.12">1.00</text>
<line x1="251.3" y1="548.7900000000001" x2="254.3" y2="548.7900000000001" stroke="#231f20" stroke-width="0.95"/>
<text x="248.30" y="550.99" font-size="6.5" text-anchor="end" fill="#231f20" stroke="#231f20" stroke-width="0.12">0.75</text>
<line x1="251.3" y1="566.26" x2="254.3" y2="566.26" stroke="#231f20" stroke-width="0.95"/>
<text x="248.30" y="568.46" font-size="6.5" text-anchor="end" fill="#231f20" stroke="#231f20" stroke-width="0.12">0.50</text>
<line x1="251.3" y1="583.73" x2="254.3" y2="583.73" stroke="#231f20" stroke-width="0.95"/>
<text x="248.30" y="585.93" font-size="6.5" text-anchor="end" fill="#231f20" stroke="#231f20" stroke-width="0.12">0.25</text>
<line x1="251.3" y1="601.2" x2="254.3" y2="601.2" stroke="#231f20" stroke-width="0.95"/>
<text x="248.30" y="603.40" font-size="6.5" text-anchor="end" fill="#231f20" stroke="#231f20" stroke-width="0.12">0.00</text>
<line x1="253.9" y1="601.2" x2="376.5" y2="601.2" stroke="#231f20" stroke-width="0.95"/>
<line x1="261.35" y1="531.32" x2="261.35" y2="529.2236" stroke="#231f20" stroke-width="0.7"/>
<line x1="259.55" y1="529.2236" x2="263.15000000000003" y2="529.2236" stroke="#231f20" stroke-width="0.7"/>
<rect x="258.10" y="531.32" width="6.50" height="69.88" fill="#475162"/>
<line x1="261.35" y1="601.2" x2="261.35" y2="603.2" stroke="#231f20" stroke-width="0.95"/>
<text x="263.35" y="611.70" font-size="6.0" text-anchor="end" fill="#231f20" stroke="#231f20" stroke-width="0.12" transform="rotate(-45 263.35 611.7)">Mut</text>
<line x1="270.35" y1="531.32" x2="270.35" y2="521.5368000000001" stroke="#231f20" stroke-width="0.7"/>
<line x1="268.55" y1="521.5368000000001" x2="272.15000000000003" y2="521.5368000000001" stroke="#231f20" stroke-width="0.7"/>
<rect x="267.10" y="531.32" width="6.50" height="69.88" fill="#475162"/>
<line x1="270.35" y1="601.2" x2="270.35" y2="603.2" stroke="#231f20" stroke-width="0.95"/>
<text x="272.35" y="611.70" font-size="6.0" text-anchor="end" fill="#231f20" stroke="#231f20" stroke-width="0.12" transform="rotate(-45 272.35 611.7)">WT</text>
<line x1="281.95" y1="542.8502000000001" x2="281.95" y2="540.7538000000001" stroke="#231f20" stroke-width="0.7"/>
<line x1="280.15" y1="540.7538000000001" x2="283.75" y2="540.7538000000001" stroke="#231f20" stroke-width="0.7"/>
<rect x="278.70" y="542.85" width="6.50" height="58.35" fill="#36a4e0"/>
<circle cx="281.95" cy="536.95" r="1.0" fill="#231f20"/>
<line x1="281.95" y1="601.2" x2="281.95" y2="603.2" stroke="#231f20" stroke-width="0.95"/>
<text x="283.95" y="611.70" font-size="6.0" text-anchor="end" fill="#231f20" stroke="#231f20" stroke-width="0.12" transform="rotate(-45 283.95 611.7)">Mut</text>
<line x1="290.55" y1="535.8622" x2="290.55" y2="534.8140000000001" stroke="#231f20" stroke-width="0.7"/>
<line x1="288.75" y1="534.8140000000001" x2="292.35" y2="534.8140000000001" stroke="#231f20" stroke-width="0.7"/>
<rect x="287.30" y="535.86" width="6.50" height="65.34" fill="#36a4e0"/>
<circle cx="290.55" cy="531.01" r="1.0" fill="#231f20"/>
<line x1="290.55" y1="601.2" x2="290.55" y2="603.2" stroke="#231f20" stroke-width="0.95"/>
<text x="292.55" y="611.70" font-size="6.0" text-anchor="end" fill="#231f20" stroke="#231f20" stroke-width="0.12" transform="rotate(-45 292.55 611.7)">WT</text>
<line x1="302.45" y1="556.8262000000001" x2="302.45" y2="554.7298000000001" stroke="#231f20" stroke-width="0.7"/>
<line x1="300.65" y1="554.7298000000001" x2="304.25" y2="554.7298000000001" stroke="#231f20" stroke-width="0.7"/>
<rect x="299.20" y="556.83" width="6.50" height="44.37" fill="#0f4c8c"/>
<circle cx="302.45" cy="550.93" r="1.0" fill="#231f20"/>
<line x1="302.45" y1="601.2" x2="302.45" y2="603.2" stroke="#231f20" stroke-width="0.95"/>
<text x="304.45" y="611.70" font-size="6.0" text-anchor="end" fill="#231f20" stroke="#231f20" stroke-width="0.12" transform="rotate(-45 304.45 611.7)">Mut</text>
<line x1="311.15" y1="548.0912000000001" x2="311.15" y2="546.3442" stroke="#231f20" stroke-width="0.7"/>
<line x1="309.34999999999997" y1="546.3442" x2="312.95" y2="546.3442" stroke="#231f20" stroke-width="0.7"/>
<rect x="307.90" y="548.09" width="6.50" height="53.11" fill="#0f4c8c"/>
<circle cx="311.15" cy="542.54" r="1.0" fill="#231f20"/>
<line x1="311.15" y1="601.2" x2="311.15" y2="603.2" stroke="#231f20" stroke-width="0.95"/>
<text x="313.15" y="611.70" font-size="6.0" text-anchor="end" fill="#231f20" stroke="#231f20" stroke-width="0.12" transform="rotate(-45 313.15 611.7)">WT</text>
<line x1="322.65" y1="565.9106" x2="322.65" y2="564.1636000000001" stroke="#231f20" stroke-width="0.7"/>
<line x1="320.84999999999997" y1="564.1636000000001" x2="324.45" y2="564.1636000000001" stroke="#231f20" stroke-width="0.7"/>
<rect x="319.40" y="565.91" width="6.50" height="35.29" fill="#cc0a2c"/>
<circle cx="322.65" cy="560.36" r="1.0" fill="#231f20"/>
<line x1="322.65" y1="601.2" x2="322.65" y2="603.2" stroke="#231f20" stroke-width="0.95"/>
<text x="324.65" y="611.70" font-size="6.0" text-anchor="end" fill="#231f20" stroke="#231f20" stroke-width="0.12" transform="rotate(-45 324.65 611.7)">Mut</text>
<line x1="331.25" y1="561.3684000000001" x2="331.25" y2="560.3202" stroke="#231f20" stroke-width="0.7"/>
<line x1="329.45" y1="560.3202" x2="333.05" y2="560.3202" stroke="#231f20" stroke-width="0.7"/>
<rect x="328.00" y="561.37" width="6.50" height="39.83" fill="#cc0a2c"/>
<circle cx="331.25" cy="556.52" r="1.0" fill="#231f20"/>
<line x1="331.25" y1="601.2" x2="331.25" y2="603.2" stroke="#231f20" stroke-width="0.95"/>
<text x="333.25" y="611.70" font-size="6.0" text-anchor="end" fill="#231f20" stroke="#231f20" stroke-width="0.12" transform="rotate(-45 333.25 611.7)">WT</text>
<line x1="343.45" y1="572.5492" x2="343.45" y2="571.5010000000001" stroke="#231f20" stroke-width="0.7"/>
<line x1="341.65" y1="571.5010000000001" x2="345.25" y2="571.5010000000001" stroke="#231f20" stroke-width="0.7"/>
<rect x="340.20" y="572.55" width="6.50" height="28.65" fill="#9a8ed0"/>
<circle cx="343.45" cy="567.70" r="1.0" fill="#231f20"/>
<line x1="343.45" y1="601.2" x2="343.45" y2="603.2" stroke="#231f20" stroke-width="0.95"/>
<text x="345.45" y="611.70" font-size="6.0" text-anchor="end" fill="#231f20" stroke="#231f20" stroke-width="0.12" transform="rotate(-45 345.45 611.7)">Mut</text>
<line x1="351.75" y1="562.7660000000001" x2="351.75" y2="560.6696000000001" stroke="#231f20" stroke-width="0.7"/>
<line x1="349.95" y1="560.6696000000001" x2="353.55" y2="560.6696000000001" stroke="#231f20" stroke-width="0.7"/>
<rect x="348.50" y="562.77" width="6.50" height="38.43" fill="#9a8ed0"/>
<circle cx="351.75" cy="556.87" r="1.0" fill="#231f20"/>
<line x1="351.75" y1="601.2" x2="351.75" y2="603.2" stroke="#231f20" stroke-width="0.95"/>
<text x="353.75" y="611.70" font-size="6.0" text-anchor="end" fill="#231f20" stroke="#231f20" stroke-width="0.12" transform="rotate(-45 353.75 611.7)">WT</text>
<line x1="363.45" y1="577.4408000000001" x2="363.45" y2="575.6938" stroke="#231f20" stroke-width="0.7"/>
<line x1="361.65" y1="575.6938" x2="365.25" y2="575.6938" stroke="#231f20" stroke-width="0.7"/>
<rect x="360.20" y="577.44" width="6.50" height="23.76" fill="#5a1864"/>
<circle cx="363.45" cy="571.89" r="1.0" fill="#231f20"/>
<line x1="363.45" y1="601.2" x2="363.45" y2="603.2" stroke="#231f20" stroke-width="0.95"/>
<text x="365.45" y="611.70" font-size="6.0" text-anchor="end" fill="#231f20" stroke="#231f20" stroke-width="0.12" transform="rotate(-45 365.45 611.7)">Mut</text>
<line x1="372.15" y1="564.513" x2="372.15" y2="562.0672000000001" stroke="#231f20" stroke-width="0.7"/>
<line x1="370.34999999999997" y1="562.0672000000001" x2="373.95" y2="562.0672000000001" stroke="#231f20" stroke-width="0.7"/>
<rect x="368.90" y="564.51" width="6.50" height="36.69" fill="#5a1864"/>
<circle cx="372.15" cy="558.27" r="1.0" fill="#231f20"/>
<line x1="372.15" y1="601.2" x2="372.15" y2="603.2" stroke="#231f20" stroke-width="0.95"/>
<text x="374.15" y="611.70" font-size="6.0" text-anchor="end" fill="#231f20" stroke="#231f20" stroke-width="0.12" transform="rotate(-45 374.15 611.7)">WT</text>
<polyline points="322.5,554.3 322.5,548.3 343.3,548.3 343.3,556.9" fill="none" stroke="#231f20" stroke-width="0.7"/>
<text x="332.00" y="544.00" font-size="6.5" text-anchor="middle" fill="#231f20" stroke="#231f20" stroke-width="0.12">#</text>
<polyline points="322.5,544 322.5,536.2 363.7,536.2 363.7,544.8" fill="none" stroke="#231f20" stroke-width="0.7"/>
<text x="342.40" y="533.00" font-size="6.5" text-anchor="middle" fill="#231f20" stroke="#231f20" stroke-width="0.12">#</text>
<text x="231.00" y="559.40" font-size="7.2" text-anchor="middle" fill="#231f20" stroke="#231f20" stroke-width="0.12" transform="rotate(-90 231 559.4)" textLength="44.7" lengthAdjust="spacingAndGlyphs">Rel. fluorescence</text>
<text x="18.80" y="615.40" font-size="6.4" text-anchor="start" fill="#231f20" stroke="#231f20" stroke-width="0.12">CD79B</text>
<text x="41.90" y="615.40" font-size="5.9" text-anchor="start" fill="#231f20" stroke="#231f20" stroke-width="0.12">status</text>
<text x="208.00" y="615.40" font-size="6.4" text-anchor="start" fill="#231f20" stroke="#231f20" stroke-width="0.12">CD79B</text>
<text x="231.00" y="615.40" font-size="5.9" text-anchor="start" fill="#231f20" stroke="#231f20" stroke-width="0.12">status</text>
<rect x="393.60" y="533.00" width="8.60" height="4.20" fill="#475162"/>
<text x="405.80" y="537.00" font-size="5.8" text-anchor="start" fill="#231f20" stroke="#231f20" stroke-width="0.12">DMSO</text>
<rect x="393.60" y="542.60" width="8.60" height="4.20" fill="#36a4e0"/>
<text x="405.80" y="546.60" font-size="5.8" text-anchor="start" fill="#231f20" stroke="#231f20" stroke-width="0.12">10 nM AZD5153</text>
<rect x="393.60" y="552.20" width="8.60" height="4.20" fill="#0f4c8c"/>
<text x="405.80" y="556.20" font-size="5.8" text-anchor="start" fill="#231f20" stroke="#231f20" stroke-width="0.12">20 nM AZD5153</text>
<rect x="393.60" y="561.80" width="8.60" height="4.20" fill="#cc0a2c"/>
<text x="405.80" y="565.80" font-size="5.8" text-anchor="start" fill="#231f20" stroke="#231f20" stroke-width="0.12">5 nM acalabrutinib</text>
<rect x="393.60" y="571.40" width="8.60" height="4.20" fill="#9a8ed0"/>
<text x="405.80" y="575.40" font-size="5.8" text-anchor="start" fill="#231f20" stroke="#231f20" stroke-width="0.12">10/5 nM combination</text>
<rect x="393.60" y="581.00" width="8.60" height="4.20" fill="#5a1864"/>
<text x="405.80" y="585.00" font-size="5.8" text-anchor="start" fill="#231f20" stroke="#231f20" stroke-width="0.12">20/5 nM combination</text>
<text x="4.00" y="16.60" font-size="11" text-anchor="start" fill="#000" stroke="#000" stroke-width="0.12" font-weight="bold">A</text>
<text x="4.00" y="205.20" font-size="11" text-anchor="start" fill="#000" stroke="#000" stroke-width="0.12" font-weight="bold">B</text>
<text x="3.80" y="340.80" font-size="11" text-anchor="start" fill="#000" stroke="#000" stroke-width="0.12" font-weight="bold">C</text>
<text x="276.20" y="340.70" font-size="11" text-anchor="start" fill="#000" stroke="#000" stroke-width="0.12" font-weight="bold">D</text>
<text x="4.60" y="508.70" font-size="11" text-anchor="start" fill="#000" stroke="#000" stroke-width="0.12" font-weight="bold">E</text>
</g>
<rect x="0.5" y="0.5" width="519" height="626" fill="none" stroke="#4d4d4d" stroke-width="1"/>
</svg></body></html>
